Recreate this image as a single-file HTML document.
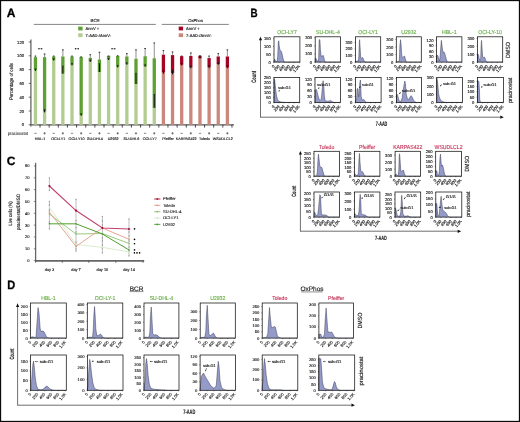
<!DOCTYPE html>
<html><head><meta charset="utf-8"><style>
html,body{margin:0;padding:0;background:#fff;width:520px;height:422px;overflow:hidden}
svg{display:block;font-family:"Liberation Sans", sans-serif;-webkit-font-smoothing:antialiased;will-change:transform;text-rendering:geometricPrecision;filter:blur(0.25px)}
</style></head><body>
<svg width="520" height="422" viewBox="0 0 520 422">
<rect width="520" height="422" fill="#fff"/>
<text x="6.80" y="16.90" font-size="12" text-anchor="start" fill="#000" font-weight="bold" stroke="#000" stroke-width="0.3" >A</text>
<line x1="30.9" y1="39.5" x2="30.9" y2="125.3" stroke="#666" stroke-width="1.3"/>
<line x1="30.4" y1="124.8" x2="234" y2="124.8" stroke="#555" stroke-width="1.2"/>
<line x1="28.7" y1="124.80" x2="30.9" y2="124.80" stroke="#333" stroke-width="0.7"/>
<text x="24.10" y="126.30" font-size="4.2" text-anchor="end" fill="#222" font-weight="normal" stroke="#222" stroke-width="0.15" >0</text>
<line x1="28.7" y1="111.00" x2="30.9" y2="111.00" stroke="#333" stroke-width="0.7"/>
<text x="24.10" y="112.50" font-size="4.2" text-anchor="end" fill="#222" font-weight="normal" stroke="#222" stroke-width="0.15" >20</text>
<line x1="28.7" y1="97.20" x2="30.9" y2="97.20" stroke="#333" stroke-width="0.7"/>
<text x="24.10" y="98.70" font-size="4.2" text-anchor="end" fill="#222" font-weight="normal" stroke="#222" stroke-width="0.15" >40</text>
<line x1="28.7" y1="83.40" x2="30.9" y2="83.40" stroke="#333" stroke-width="0.7"/>
<text x="24.10" y="84.90" font-size="4.2" text-anchor="end" fill="#222" font-weight="normal" stroke="#222" stroke-width="0.15" >60</text>
<line x1="28.7" y1="69.60" x2="30.9" y2="69.60" stroke="#333" stroke-width="0.7"/>
<text x="24.10" y="71.10" font-size="4.2" text-anchor="end" fill="#222" font-weight="normal" stroke="#222" stroke-width="0.15" >80</text>
<line x1="28.7" y1="55.80" x2="30.9" y2="55.80" stroke="#333" stroke-width="0.7"/>
<text x="24.10" y="57.30" font-size="4.2" text-anchor="end" fill="#222" font-weight="normal" stroke="#222" stroke-width="0.15" >100</text>
<line x1="28.7" y1="42.00" x2="30.9" y2="42.00" stroke="#333" stroke-width="0.7"/>
<text x="24.10" y="43.50" font-size="4.2" text-anchor="end" fill="#222" font-weight="normal" stroke="#222" stroke-width="0.15" >120</text>
<text transform="translate(12.6,81.5) rotate(-90)" font-size="5.2" text-anchor="middle" fill="#222" stroke="#222" stroke-width="0.15" textLength="37" lengthAdjust="spacingAndGlyphs">Percentage of cells</text>
<rect x="33.80" y="70.29" width="3.3" height="54.51" fill="#b3cc92"/>
<rect x="33.80" y="57.18" width="3.3" height="13.11" fill="#5fa033"/>
<line x1="35.45" y1="55.80" x2="35.45" y2="57.18" stroke="#444" stroke-width="0.6"/>
<line x1="34.65" y1="56.10" x2="36.25" y2="56.10" stroke="#222" stroke-width="0.9"/>
<line x1="35.45" y1="68.91" x2="35.45" y2="70.98" stroke="#111" stroke-width="1.0"/>
<line x1="34.65" y1="68.91" x2="36.25" y2="68.91" stroke="#111" stroke-width="0.6"/>
<line x1="40.02" y1="124.8" x2="40.02" y2="127.6" stroke="#222" stroke-width="0.8"/>
<line x1="34.30" y1="133.3" x2="36.60" y2="133.3" stroke="#333" stroke-width="0.6"/>
<rect x="42.94" y="111.69" width="3.3" height="13.11" fill="#b3cc92"/>
<rect x="42.94" y="57.18" width="3.3" height="54.51" fill="#5fa033"/>
<line x1="44.59" y1="53.73" x2="44.59" y2="57.18" stroke="#444" stroke-width="0.6"/>
<line x1="43.79" y1="54.03" x2="45.39" y2="54.03" stroke="#222" stroke-width="0.9"/>
<line x1="44.59" y1="109.62" x2="44.59" y2="112.38" stroke="#111" stroke-width="1.0"/>
<line x1="43.79" y1="109.62" x2="45.39" y2="109.62" stroke="#111" stroke-width="0.6"/>
<line x1="49.16" y1="124.8" x2="49.16" y2="127.6" stroke="#222" stroke-width="0.8"/>
<line x1="43.44" y1="133.3" x2="45.74" y2="133.3" stroke="#333" stroke-width="0.6"/>
<line x1="44.59" y1="132.1" x2="44.59" y2="134.5" stroke="#333" stroke-width="0.6"/>
<rect x="52.08" y="59.94" width="3.3" height="64.86" fill="#b3cc92"/>
<rect x="52.08" y="56.49" width="3.3" height="3.45" fill="#5fa033"/>
<line x1="53.73" y1="55.80" x2="53.73" y2="56.49" stroke="#444" stroke-width="0.6"/>
<line x1="52.93" y1="56.10" x2="54.53" y2="56.10" stroke="#222" stroke-width="0.9"/>
<line x1="53.73" y1="58.56" x2="53.73" y2="60.63" stroke="#111" stroke-width="1.0"/>
<line x1="52.93" y1="58.56" x2="54.53" y2="58.56" stroke="#111" stroke-width="0.6"/>
<line x1="58.30" y1="124.8" x2="58.30" y2="127.6" stroke="#222" stroke-width="0.8"/>
<line x1="52.58" y1="133.3" x2="54.88" y2="133.3" stroke="#333" stroke-width="0.6"/>
<rect x="61.22" y="73.74" width="3.3" height="51.06" fill="#b3cc92"/>
<rect x="61.22" y="56.49" width="3.3" height="17.25" fill="#5fa033"/>
<line x1="62.87" y1="49.59" x2="62.87" y2="56.49" stroke="#444" stroke-width="0.6"/>
<line x1="62.07" y1="49.89" x2="63.67" y2="49.89" stroke="#222" stroke-width="0.9"/>
<line x1="62.87" y1="66.15" x2="62.87" y2="73.74" stroke="#111" stroke-width="1.0"/>
<line x1="62.07" y1="66.15" x2="63.67" y2="66.15" stroke="#111" stroke-width="0.6"/>
<line x1="67.44" y1="124.8" x2="67.44" y2="127.6" stroke="#222" stroke-width="0.8"/>
<line x1="61.72" y1="133.3" x2="64.02" y2="133.3" stroke="#333" stroke-width="0.6"/>
<line x1="62.87" y1="132.1" x2="62.87" y2="134.5" stroke="#333" stroke-width="0.6"/>
<rect x="70.36" y="64.77" width="3.3" height="60.03" fill="#b3cc92"/>
<rect x="70.36" y="56.49" width="3.3" height="8.28" fill="#5fa033"/>
<line x1="72.01" y1="55.80" x2="72.01" y2="56.49" stroke="#444" stroke-width="0.6"/>
<line x1="71.21" y1="56.10" x2="72.81" y2="56.10" stroke="#222" stroke-width="0.9"/>
<line x1="72.01" y1="63.39" x2="72.01" y2="65.46" stroke="#111" stroke-width="1.0"/>
<line x1="71.21" y1="63.39" x2="72.81" y2="63.39" stroke="#111" stroke-width="0.6"/>
<line x1="76.58" y1="124.8" x2="76.58" y2="127.6" stroke="#222" stroke-width="0.8"/>
<line x1="70.86" y1="133.3" x2="73.16" y2="133.3" stroke="#333" stroke-width="0.6"/>
<rect x="79.50" y="115.14" width="3.3" height="9.66" fill="#b3cc92"/>
<rect x="79.50" y="56.90" width="3.3" height="58.24" fill="#5fa033"/>
<line x1="81.15" y1="56.63" x2="81.15" y2="56.90" stroke="#444" stroke-width="0.6"/>
<line x1="80.35" y1="56.93" x2="81.95" y2="56.93" stroke="#222" stroke-width="0.9"/>
<line x1="81.15" y1="113.76" x2="81.15" y2="115.83" stroke="#111" stroke-width="1.0"/>
<line x1="80.35" y1="113.76" x2="81.95" y2="113.76" stroke="#111" stroke-width="0.6"/>
<line x1="85.72" y1="124.8" x2="85.72" y2="127.6" stroke="#222" stroke-width="0.8"/>
<line x1="80.00" y1="133.3" x2="82.30" y2="133.3" stroke="#333" stroke-width="0.6"/>
<line x1="81.15" y1="132.1" x2="81.15" y2="134.5" stroke="#333" stroke-width="0.6"/>
<rect x="88.64" y="61.32" width="3.3" height="63.48" fill="#b3cc92"/>
<rect x="88.64" y="57.87" width="3.3" height="3.45" fill="#5fa033"/>
<line x1="90.29" y1="54.42" x2="90.29" y2="57.87" stroke="#444" stroke-width="0.6"/>
<line x1="89.49" y1="54.72" x2="91.09" y2="54.72" stroke="#222" stroke-width="0.9"/>
<line x1="90.29" y1="59.94" x2="90.29" y2="62.01" stroke="#111" stroke-width="1.0"/>
<line x1="89.49" y1="59.94" x2="91.09" y2="59.94" stroke="#111" stroke-width="0.6"/>
<line x1="94.86" y1="124.8" x2="94.86" y2="127.6" stroke="#222" stroke-width="0.8"/>
<line x1="89.14" y1="133.3" x2="91.44" y2="133.3" stroke="#333" stroke-width="0.6"/>
<rect x="97.78" y="72.02" width="3.3" height="52.78" fill="#b3cc92"/>
<rect x="97.78" y="59.53" width="3.3" height="12.49" fill="#5fa033"/>
<line x1="99.43" y1="51.94" x2="99.43" y2="59.53" stroke="#444" stroke-width="0.6"/>
<line x1="98.63" y1="52.24" x2="100.23" y2="52.24" stroke="#222" stroke-width="0.9"/>
<line x1="99.43" y1="63.73" x2="99.43" y2="72.02" stroke="#111" stroke-width="1.0"/>
<line x1="98.63" y1="63.73" x2="100.23" y2="63.73" stroke="#111" stroke-width="0.6"/>
<line x1="104.00" y1="124.8" x2="104.00" y2="127.6" stroke="#222" stroke-width="0.8"/>
<line x1="98.28" y1="133.3" x2="100.58" y2="133.3" stroke="#333" stroke-width="0.6"/>
<line x1="99.43" y1="132.1" x2="99.43" y2="134.5" stroke="#333" stroke-width="0.6"/>
<rect x="106.92" y="59.53" width="3.3" height="65.27" fill="#b3cc92"/>
<rect x="106.92" y="55.80" width="3.3" height="3.73" fill="#5fa033"/>
<line x1="108.57" y1="55.80" x2="108.57" y2="55.80" stroke="#444" stroke-width="0.6"/>
<line x1="107.77" y1="56.10" x2="109.37" y2="56.10" stroke="#222" stroke-width="0.9"/>
<line x1="108.57" y1="58.56" x2="108.57" y2="59.94" stroke="#111" stroke-width="1.0"/>
<line x1="107.77" y1="58.56" x2="109.37" y2="58.56" stroke="#111" stroke-width="0.6"/>
<line x1="113.14" y1="124.8" x2="113.14" y2="127.6" stroke="#222" stroke-width="0.8"/>
<line x1="107.42" y1="133.3" x2="109.72" y2="133.3" stroke="#333" stroke-width="0.6"/>
<rect x="116.06" y="66.84" width="3.3" height="57.96" fill="#b3cc92"/>
<rect x="116.06" y="55.94" width="3.3" height="10.90" fill="#5fa033"/>
<line x1="117.71" y1="55.52" x2="117.71" y2="55.94" stroke="#444" stroke-width="0.6"/>
<line x1="116.91" y1="55.82" x2="118.51" y2="55.82" stroke="#222" stroke-width="0.9"/>
<line x1="117.71" y1="65.46" x2="117.71" y2="67.53" stroke="#111" stroke-width="1.0"/>
<line x1="116.91" y1="65.46" x2="118.51" y2="65.46" stroke="#111" stroke-width="0.6"/>
<line x1="122.28" y1="124.8" x2="122.28" y2="127.6" stroke="#222" stroke-width="0.8"/>
<line x1="116.56" y1="133.3" x2="118.86" y2="133.3" stroke="#333" stroke-width="0.6"/>
<line x1="117.71" y1="132.1" x2="117.71" y2="134.5" stroke="#333" stroke-width="0.6"/>
<rect x="125.20" y="64.08" width="3.3" height="60.72" fill="#b3cc92"/>
<rect x="125.20" y="56.49" width="3.3" height="7.59" fill="#5fa033"/>
<line x1="126.85" y1="53.32" x2="126.85" y2="56.49" stroke="#444" stroke-width="0.6"/>
<line x1="126.05" y1="53.62" x2="127.65" y2="53.62" stroke="#222" stroke-width="0.9"/>
<line x1="126.85" y1="62.70" x2="126.85" y2="64.77" stroke="#111" stroke-width="1.0"/>
<line x1="126.05" y1="62.70" x2="127.65" y2="62.70" stroke="#111" stroke-width="0.6"/>
<line x1="131.42" y1="124.8" x2="131.42" y2="127.6" stroke="#222" stroke-width="0.8"/>
<line x1="125.70" y1="133.3" x2="128.00" y2="133.3" stroke="#333" stroke-width="0.6"/>
<rect x="134.34" y="84.09" width="3.3" height="40.71" fill="#b3cc92"/>
<rect x="134.34" y="58.77" width="3.3" height="25.32" fill="#5fa033"/>
<line x1="135.99" y1="49.59" x2="135.99" y2="58.77" stroke="#444" stroke-width="0.6"/>
<line x1="135.19" y1="49.89" x2="136.79" y2="49.89" stroke="#222" stroke-width="0.9"/>
<line x1="135.99" y1="73.33" x2="135.99" y2="84.09" stroke="#111" stroke-width="1.0"/>
<line x1="135.19" y1="73.33" x2="136.79" y2="73.33" stroke="#111" stroke-width="0.6"/>
<line x1="140.56" y1="124.8" x2="140.56" y2="127.6" stroke="#222" stroke-width="0.8"/>
<line x1="134.84" y1="133.3" x2="137.14" y2="133.3" stroke="#333" stroke-width="0.6"/>
<line x1="135.99" y1="132.1" x2="135.99" y2="134.5" stroke="#333" stroke-width="0.6"/>
<rect x="143.48" y="66.15" width="3.3" height="58.65" fill="#b3cc92"/>
<rect x="143.48" y="56.21" width="3.3" height="9.94" fill="#5fa033"/>
<line x1="145.13" y1="48.21" x2="145.13" y2="56.21" stroke="#444" stroke-width="0.6"/>
<line x1="144.33" y1="48.51" x2="145.93" y2="48.51" stroke="#222" stroke-width="0.9"/>
<line x1="145.13" y1="64.77" x2="145.13" y2="66.84" stroke="#111" stroke-width="1.0"/>
<line x1="144.33" y1="64.77" x2="145.93" y2="64.77" stroke="#111" stroke-width="0.6"/>
<line x1="149.70" y1="124.8" x2="149.70" y2="127.6" stroke="#222" stroke-width="0.8"/>
<line x1="143.98" y1="133.3" x2="146.28" y2="133.3" stroke="#333" stroke-width="0.6"/>
<rect x="152.62" y="108.24" width="3.3" height="16.56" fill="#b3cc92"/>
<rect x="152.62" y="58.28" width="3.3" height="49.96" fill="#5fa033"/>
<line x1="154.27" y1="42.69" x2="154.27" y2="58.28" stroke="#444" stroke-width="0.6"/>
<line x1="153.47" y1="42.99" x2="155.07" y2="42.99" stroke="#222" stroke-width="0.9"/>
<line x1="154.27" y1="94.44" x2="154.27" y2="107.55" stroke="#111" stroke-width="1.0"/>
<line x1="153.47" y1="94.44" x2="155.07" y2="94.44" stroke="#111" stroke-width="0.6"/>
<line x1="158.84" y1="124.8" x2="158.84" y2="127.6" stroke="#222" stroke-width="0.8"/>
<line x1="153.12" y1="133.3" x2="155.42" y2="133.3" stroke="#333" stroke-width="0.6"/>
<line x1="154.27" y1="132.1" x2="154.27" y2="134.5" stroke="#333" stroke-width="0.6"/>
<rect x="161.76" y="72.50" width="3.3" height="52.30" fill="#cc877c"/>
<rect x="161.76" y="54.70" width="3.3" height="17.80" fill="#a60426"/>
<line x1="163.41" y1="50.28" x2="163.41" y2="54.70" stroke="#444" stroke-width="0.6"/>
<line x1="162.61" y1="50.58" x2="164.21" y2="50.58" stroke="#222" stroke-width="0.9"/>
<line x1="163.41" y1="70.29" x2="163.41" y2="73.74" stroke="#111" stroke-width="1.0"/>
<line x1="162.61" y1="70.29" x2="164.21" y2="70.29" stroke="#111" stroke-width="0.6"/>
<line x1="167.98" y1="124.8" x2="167.98" y2="127.6" stroke="#222" stroke-width="0.8"/>
<line x1="162.26" y1="133.3" x2="164.56" y2="133.3" stroke="#333" stroke-width="0.6"/>
<rect x="170.90" y="73.19" width="3.3" height="51.61" fill="#cc877c"/>
<rect x="170.90" y="55.11" width="3.3" height="18.08" fill="#a60426"/>
<line x1="172.55" y1="51.66" x2="172.55" y2="55.11" stroke="#444" stroke-width="0.6"/>
<line x1="171.75" y1="51.96" x2="173.35" y2="51.96" stroke="#222" stroke-width="0.9"/>
<line x1="172.55" y1="70.29" x2="172.55" y2="74.43" stroke="#111" stroke-width="1.0"/>
<line x1="171.75" y1="70.29" x2="173.35" y2="70.29" stroke="#111" stroke-width="0.6"/>
<line x1="177.12" y1="124.8" x2="177.12" y2="127.6" stroke="#222" stroke-width="0.8"/>
<line x1="171.40" y1="133.3" x2="173.70" y2="133.3" stroke="#333" stroke-width="0.6"/>
<line x1="172.55" y1="132.1" x2="172.55" y2="134.5" stroke="#333" stroke-width="0.6"/>
<rect x="180.04" y="64.77" width="3.3" height="60.03" fill="#cc877c"/>
<rect x="180.04" y="56.21" width="3.3" height="8.56" fill="#a60426"/>
<line x1="181.69" y1="55.80" x2="181.69" y2="56.21" stroke="#444" stroke-width="0.6"/>
<line x1="180.89" y1="56.10" x2="182.49" y2="56.10" stroke="#222" stroke-width="0.9"/>
<line x1="181.69" y1="63.39" x2="181.69" y2="65.46" stroke="#111" stroke-width="1.0"/>
<line x1="180.89" y1="63.39" x2="182.49" y2="63.39" stroke="#111" stroke-width="0.6"/>
<line x1="186.26" y1="124.8" x2="186.26" y2="127.6" stroke="#222" stroke-width="0.8"/>
<line x1="180.54" y1="133.3" x2="182.84" y2="133.3" stroke="#333" stroke-width="0.6"/>
<rect x="189.18" y="67.53" width="3.3" height="57.27" fill="#cc877c"/>
<rect x="189.18" y="55.94" width="3.3" height="11.59" fill="#a60426"/>
<line x1="190.83" y1="52.63" x2="190.83" y2="55.94" stroke="#444" stroke-width="0.6"/>
<line x1="190.03" y1="52.93" x2="191.63" y2="52.93" stroke="#222" stroke-width="0.9"/>
<line x1="190.83" y1="66.15" x2="190.83" y2="68.22" stroke="#111" stroke-width="1.0"/>
<line x1="190.03" y1="66.15" x2="191.63" y2="66.15" stroke="#111" stroke-width="0.6"/>
<line x1="195.40" y1="124.8" x2="195.40" y2="127.6" stroke="#222" stroke-width="0.8"/>
<line x1="189.68" y1="133.3" x2="191.98" y2="133.3" stroke="#333" stroke-width="0.6"/>
<line x1="190.83" y1="132.1" x2="190.83" y2="134.5" stroke="#333" stroke-width="0.6"/>
<rect x="198.32" y="58.28" width="3.3" height="66.52" fill="#cc877c"/>
<rect x="198.32" y="55.80" width="3.3" height="2.48" fill="#a60426"/>
<line x1="199.97" y1="55.45" x2="199.97" y2="55.80" stroke="#444" stroke-width="0.6"/>
<line x1="199.17" y1="55.75" x2="200.77" y2="55.75" stroke="#222" stroke-width="0.9"/>
<line x1="199.97" y1="57.18" x2="199.97" y2="58.56" stroke="#111" stroke-width="1.0"/>
<line x1="199.17" y1="57.18" x2="200.77" y2="57.18" stroke="#111" stroke-width="0.6"/>
<line x1="204.54" y1="124.8" x2="204.54" y2="127.6" stroke="#222" stroke-width="0.8"/>
<line x1="198.82" y1="133.3" x2="201.12" y2="133.3" stroke="#333" stroke-width="0.6"/>
<rect x="207.46" y="67.12" width="3.3" height="57.68" fill="#cc877c"/>
<rect x="207.46" y="58.08" width="3.3" height="9.04" fill="#a60426"/>
<line x1="209.11" y1="55.80" x2="209.11" y2="58.08" stroke="#444" stroke-width="0.6"/>
<line x1="208.31" y1="56.10" x2="209.91" y2="56.10" stroke="#222" stroke-width="0.9"/>
<line x1="209.11" y1="65.46" x2="209.11" y2="68.22" stroke="#111" stroke-width="1.0"/>
<line x1="208.31" y1="65.46" x2="209.91" y2="65.46" stroke="#111" stroke-width="0.6"/>
<line x1="213.68" y1="124.8" x2="213.68" y2="127.6" stroke="#222" stroke-width="0.8"/>
<line x1="207.96" y1="133.3" x2="210.26" y2="133.3" stroke="#333" stroke-width="0.6"/>
<line x1="209.11" y1="132.1" x2="209.11" y2="134.5" stroke="#333" stroke-width="0.6"/>
<rect x="216.60" y="64.08" width="3.3" height="60.72" fill="#cc877c"/>
<rect x="216.60" y="56.49" width="3.3" height="7.59" fill="#a60426"/>
<line x1="218.25" y1="53.32" x2="218.25" y2="56.49" stroke="#444" stroke-width="0.6"/>
<line x1="217.45" y1="53.62" x2="219.05" y2="53.62" stroke="#222" stroke-width="0.9"/>
<line x1="218.25" y1="62.70" x2="218.25" y2="64.77" stroke="#111" stroke-width="1.0"/>
<line x1="217.45" y1="62.70" x2="219.05" y2="62.70" stroke="#111" stroke-width="0.6"/>
<line x1="222.82" y1="124.8" x2="222.82" y2="127.6" stroke="#222" stroke-width="0.8"/>
<line x1="217.10" y1="133.3" x2="219.40" y2="133.3" stroke="#333" stroke-width="0.6"/>
<rect x="225.74" y="67.53" width="3.3" height="57.27" fill="#cc877c"/>
<rect x="225.74" y="56.49" width="3.3" height="11.04" fill="#a60426"/>
<line x1="227.39" y1="49.59" x2="227.39" y2="56.49" stroke="#444" stroke-width="0.6"/>
<line x1="226.59" y1="49.89" x2="228.19" y2="49.89" stroke="#222" stroke-width="0.9"/>
<line x1="227.39" y1="65.46" x2="227.39" y2="68.22" stroke="#111" stroke-width="1.0"/>
<line x1="226.59" y1="65.46" x2="228.19" y2="65.46" stroke="#111" stroke-width="0.6"/>
<line x1="231.96" y1="124.8" x2="231.96" y2="127.6" stroke="#222" stroke-width="0.8"/>
<line x1="226.24" y1="133.3" x2="228.54" y2="133.3" stroke="#333" stroke-width="0.6"/>
<line x1="227.39" y1="132.1" x2="227.39" y2="134.5" stroke="#333" stroke-width="0.6"/>
<line x1="30.9" y1="124.8" x2="30.9" y2="127.0" stroke="#333" stroke-width="0.5"/>
<text x="7.80" y="134.80" font-size="4.6" text-anchor="start" fill="#222" font-weight="normal" stroke="#222" stroke-width="0.06" textLength="20.2" lengthAdjust="spacingAndGlyphs">pracinostat</text>
<text x="40.02" y="140.30" font-size="3.7" text-anchor="middle" fill="#222" font-weight="normal" stroke="#222" stroke-width="0.15" >HBL-1</text>
<text x="58.30" y="140.30" font-size="3.7" text-anchor="middle" fill="#222" font-weight="normal" stroke="#222" stroke-width="0.15" >OCI-LY1</text>
<text x="76.58" y="140.30" font-size="3.7" text-anchor="middle" fill="#222" font-weight="normal" stroke="#222" stroke-width="0.15" >OCI-LY10</text>
<text x="94.86" y="140.30" font-size="3.7" text-anchor="middle" fill="#222" font-weight="normal" stroke="#222" stroke-width="0.15" >SU-DHL4</text>
<text x="113.14" y="140.30" font-size="3.7" text-anchor="middle" fill="#222" font-weight="normal" stroke="#222" stroke-width="0.15" >U2932</text>
<text x="131.42" y="140.30" font-size="3.7" text-anchor="middle" fill="#222" font-weight="normal" stroke="#222" stroke-width="0.15" >SU-DHL6</text>
<text x="149.70" y="140.30" font-size="3.7" text-anchor="middle" fill="#222" font-weight="normal" stroke="#222" stroke-width="0.15" >OCI-LY7</text>
<text x="167.98" y="140.30" font-size="3.7" text-anchor="middle" fill="#222" font-weight="normal" stroke="#222" stroke-width="0.15" >Pfeiffer</text>
<text x="186.26" y="140.30" font-size="3.7" text-anchor="middle" fill="#222" font-weight="normal" stroke="#222" stroke-width="0.15" >KARPAS422</text>
<text x="204.54" y="140.30" font-size="3.7" text-anchor="middle" fill="#222" font-weight="normal" stroke="#222" stroke-width="0.15" >Toledo</text>
<text x="222.82" y="140.30" font-size="3.7" text-anchor="middle" fill="#222" font-weight="normal" stroke="#222" stroke-width="0.15" >WSUDLCL2</text>
<line x1="38.90" y1="48.7" x2="41.70" y2="48.7" stroke="#555" stroke-width="0.5"/>
<circle cx="38.90" cy="48.7" r="0.75" fill="#222"/>
<circle cx="41.70" cy="48.7" r="0.75" fill="#222"/>
<line x1="75.50" y1="48.7" x2="78.30" y2="48.7" stroke="#555" stroke-width="0.5"/>
<circle cx="75.50" cy="48.7" r="0.75" fill="#222"/>
<circle cx="78.30" cy="48.7" r="0.75" fill="#222"/>
<line x1="112.00" y1="48.7" x2="114.80" y2="48.7" stroke="#555" stroke-width="0.5"/>
<circle cx="112.00" cy="48.7" r="0.75" fill="#222"/>
<circle cx="114.80" cy="48.7" r="0.75" fill="#222"/>
<text x="95.10" y="21.70" font-size="4.4" text-anchor="middle" fill="#222" font-weight="normal" stroke="#222" stroke-width="0.15" >BCR</text>
<line x1="33.8" y1="24.4" x2="155.8" y2="24.4" stroke="#333" stroke-width="0.6"/>
<text x="195.60" y="21.70" font-size="4.2" text-anchor="middle" fill="#222" font-weight="normal" stroke="#222" stroke-width="0.15" >OxPhos</text>
<line x1="161.7" y1="24.4" x2="228.8" y2="24.4" stroke="#333" stroke-width="0.6"/>
<rect x="78.2" y="26.6" width="4.4" height="3.8" fill="#5fa033"/>
<rect x="78.2" y="33.3" width="4.4" height="3.8" fill="#b3cc92"/>
<text x="85.60" y="30.00" font-size="4.1" text-anchor="start" fill="#222" font-weight="normal" stroke="#222" stroke-width="0.15" textLength="13.6" lengthAdjust="spacingAndGlyphs">AnnV +</text>
<text x="85.60" y="36.70" font-size="4.1" text-anchor="start" fill="#222" font-weight="normal" stroke="#222" stroke-width="0.15" textLength="25.4" lengthAdjust="spacingAndGlyphs">7-AAD-/AnnV-</text>
<rect x="178.7" y="26.6" width="4.4" height="3.8" fill="#a60426"/>
<rect x="178.7" y="33.3" width="4.4" height="3.8" fill="#cc877c"/>
<text x="186.10" y="30.00" font-size="4.1" text-anchor="start" fill="#222" font-weight="normal" stroke="#222" stroke-width="0.15" textLength="13.6" lengthAdjust="spacingAndGlyphs">AnnV +</text>
<text x="186.10" y="36.70" font-size="4.1" text-anchor="start" fill="#222" font-weight="normal" stroke="#222" stroke-width="0.15" textLength="25.4" lengthAdjust="spacingAndGlyphs">7-AAD-/AnnV-</text>
<text x="250.60" y="16.80" font-size="12" text-anchor="start" fill="#000" font-weight="bold" stroke="#000" stroke-width="0.3" textLength="7.1" lengthAdjust="spacingAndGlyphs">B</text>
<text x="286.95" y="33.50" font-size="5.8" text-anchor="middle" fill="#6aaf4a" font-weight="normal" stroke="#6aaf4a" stroke-width="0.15"  textLength="19.65" lengthAdjust="spacingAndGlyphs">OCI-LY7</text>
<text x="327.90" y="33.50" font-size="5.8" text-anchor="middle" fill="#6aaf4a" font-weight="normal" stroke="#6aaf4a" stroke-width="0.15"  textLength="23.75" lengthAdjust="spacingAndGlyphs">SU-DHL-4</text>
<text x="368.10" y="33.50" font-size="5.8" text-anchor="middle" fill="#6aaf4a" font-weight="normal" stroke="#6aaf4a" stroke-width="0.15"  textLength="19.65" lengthAdjust="spacingAndGlyphs">OCI-LY1</text>
<text x="408.80" y="33.50" font-size="5.8" text-anchor="middle" fill="#6aaf4a" font-weight="normal" stroke="#6aaf4a" stroke-width="0.15"  textLength="15.18" lengthAdjust="spacingAndGlyphs">U2932</text>
<text x="449.25" y="33.50" font-size="5.8" text-anchor="middle" fill="#6aaf4a" font-weight="normal" stroke="#6aaf4a" stroke-width="0.15"  textLength="14.60" lengthAdjust="spacingAndGlyphs">HBL-1</text>
<text x="490.10" y="33.50" font-size="5.8" text-anchor="middle" fill="#6aaf4a" font-weight="normal" stroke="#6aaf4a" stroke-width="0.15"  textLength="23.76" lengthAdjust="spacingAndGlyphs">OCI-LY-10</text>
<path d="M274.00,62.10 L274.28,59.87 L274.70,59.19 L275.42,60.58 L275.92,61.59 L277.13,61.59 L277.70,56.41 L278.27,42.49 L278.77,40.77 L279.26,45.98 L279.98,50.13 L280.89,50.84 L281.61,51.88 L282.31,55.02 L283.25,59.19 L284.10,61.59 L284.83,61.97 L285.65,62.10 L299.90,62.10 Z" fill="#959bc8" stroke="none"/>
<path d="M274.00,62.10 L274.28,59.87 L274.70,59.19 L275.42,60.58 L275.92,61.59 L277.13,61.59 L277.70,56.41 L278.27,42.49 L278.77,40.77 L279.26,45.98 L279.98,50.13 L280.89,50.84 L281.61,51.88 L282.31,55.02 L283.25,59.19 L284.10,61.59 L284.83,61.97 L285.65,62.10 L299.90,62.10" fill="none" stroke="#2b2d45" stroke-width="0.45" stroke-linejoin="round"/>
<rect x="274.00" y="36.80" width="25.90" height="25.30" fill="none" stroke="#111" stroke-width="0.75"/>
<line x1="273.00" y1="62.10" x2="274.00" y2="62.10" stroke="#111" stroke-width="0.4"/>
<text x="270.90" y="63.59" font-size="4.15" text-anchor="end" fill="#222" stroke="#222" stroke-width="0.15" textLength="2.30" lengthAdjust="spacingAndGlyphs">0</text>
<line x1="273.00" y1="54.29" x2="274.00" y2="54.29" stroke="#111" stroke-width="0.4"/>
<text x="270.90" y="55.79" font-size="4.15" text-anchor="end" fill="#222" stroke="#222" stroke-width="0.15" textLength="4.60" lengthAdjust="spacingAndGlyphs">50</text>
<line x1="273.00" y1="46.48" x2="274.00" y2="46.48" stroke="#111" stroke-width="0.4"/>
<text x="270.90" y="47.98" font-size="4.15" text-anchor="end" fill="#222" stroke="#222" stroke-width="0.15" textLength="6.90" lengthAdjust="spacingAndGlyphs">100</text>
<line x1="273.00" y1="38.67" x2="274.00" y2="38.67" stroke="#111" stroke-width="0.4"/>
<text x="270.90" y="40.17" font-size="4.15" text-anchor="end" fill="#222" stroke="#222" stroke-width="0.15" textLength="6.90" lengthAdjust="spacingAndGlyphs">150</text>
<line x1="274.00" y1="62.10" x2="274.00" y2="63.10" stroke="#111" stroke-width="0.4"/>
<text transform="translate(274.90,66.50) rotate(-49)" font-size="3.95" text-anchor="end" fill="#222" stroke="#222" stroke-width="0.16">0</text>
<line x1="279.06" y1="62.10" x2="279.06" y2="63.10" stroke="#111" stroke-width="0.4"/>
<text transform="translate(279.96,66.50) rotate(-49)" font-size="3.95" text-anchor="end" fill="#222" stroke="#222" stroke-width="0.16">200</text>
<line x1="284.12" y1="62.10" x2="284.12" y2="63.10" stroke="#111" stroke-width="0.4"/>
<text transform="translate(285.02,66.50) rotate(-49)" font-size="3.95" text-anchor="end" fill="#222" stroke="#222" stroke-width="0.16">400</text>
<line x1="289.18" y1="62.10" x2="289.18" y2="63.10" stroke="#111" stroke-width="0.4"/>
<text transform="translate(290.08,66.50) rotate(-49)" font-size="3.95" text-anchor="end" fill="#222" stroke="#222" stroke-width="0.16">600</text>
<line x1="294.23" y1="62.10" x2="294.23" y2="63.10" stroke="#111" stroke-width="0.4"/>
<text transform="translate(295.13,66.50) rotate(-49)" font-size="3.95" text-anchor="end" fill="#222" stroke="#222" stroke-width="0.16">800</text>
<line x1="299.29" y1="62.10" x2="299.29" y2="63.10" stroke="#111" stroke-width="0.4"/>
<text transform="translate(300.19,66.50) rotate(-49)" font-size="3.95" text-anchor="end" fill="#222" stroke="#222" stroke-width="0.16">1.0K</text>
<path d="M274.00,102.40 L274.00,78.99 L274.15,78.99 L274.72,79.99 L275.21,84.72 L275.93,91.20 L276.62,96.27 L277.55,99.51 L278.75,101.33 L281.25,102.05 L285.56,102.40 L299.70,102.40 Z" fill="#959bc8" stroke="none"/>
<path d="M274.00,102.40 L274.00,78.99 L274.15,78.99 L274.72,79.99 L275.21,84.72 L275.93,91.20 L276.62,96.27 L277.55,99.51 L278.75,101.33 L281.25,102.05 L285.56,102.40 L299.70,102.40" fill="none" stroke="#2b2d45" stroke-width="0.45" stroke-linejoin="round"/>
<rect x="274.00" y="77.50" width="25.70" height="24.90" fill="none" stroke="#111" stroke-width="0.75"/>
<line x1="273.00" y1="102.40" x2="274.00" y2="102.40" stroke="#111" stroke-width="0.4"/>
<text x="270.90" y="103.89" font-size="4.15" text-anchor="end" fill="#222" stroke="#222" stroke-width="0.15" textLength="2.30" lengthAdjust="spacingAndGlyphs">0</text>
<line x1="273.00" y1="97.46" x2="274.00" y2="97.46" stroke="#111" stroke-width="0.4"/>
<text x="270.90" y="98.95" font-size="4.15" text-anchor="end" fill="#222" stroke="#222" stroke-width="0.15" textLength="4.60" lengthAdjust="spacingAndGlyphs">50</text>
<line x1="273.00" y1="92.52" x2="274.00" y2="92.52" stroke="#111" stroke-width="0.4"/>
<text x="270.90" y="94.01" font-size="4.15" text-anchor="end" fill="#222" stroke="#222" stroke-width="0.15" textLength="6.90" lengthAdjust="spacingAndGlyphs">100</text>
<line x1="273.00" y1="87.58" x2="274.00" y2="87.58" stroke="#111" stroke-width="0.4"/>
<text x="270.90" y="89.07" font-size="4.15" text-anchor="end" fill="#222" stroke="#222" stroke-width="0.15" textLength="6.90" lengthAdjust="spacingAndGlyphs">150</text>
<line x1="273.00" y1="82.64" x2="274.00" y2="82.64" stroke="#111" stroke-width="0.4"/>
<text x="270.90" y="84.13" font-size="4.15" text-anchor="end" fill="#222" stroke="#222" stroke-width="0.15" textLength="6.90" lengthAdjust="spacingAndGlyphs">200</text>
<line x1="273.00" y1="77.70" x2="274.00" y2="77.70" stroke="#111" stroke-width="0.4"/>
<text x="270.90" y="79.19" font-size="4.15" text-anchor="end" fill="#222" stroke="#222" stroke-width="0.15" textLength="6.90" lengthAdjust="spacingAndGlyphs">250</text>
<line x1="274.00" y1="102.40" x2="274.00" y2="103.40" stroke="#111" stroke-width="0.4"/>
<text transform="translate(274.90,106.80) rotate(-49)" font-size="3.95" text-anchor="end" fill="#222" stroke="#222" stroke-width="0.16">0</text>
<line x1="279.02" y1="102.40" x2="279.02" y2="103.40" stroke="#111" stroke-width="0.4"/>
<text transform="translate(279.92,106.80) rotate(-49)" font-size="3.95" text-anchor="end" fill="#222" stroke="#222" stroke-width="0.16">200</text>
<line x1="284.04" y1="102.40" x2="284.04" y2="103.40" stroke="#111" stroke-width="0.4"/>
<text transform="translate(284.94,106.80) rotate(-49)" font-size="3.95" text-anchor="end" fill="#222" stroke="#222" stroke-width="0.16">400</text>
<line x1="289.06" y1="102.40" x2="289.06" y2="103.40" stroke="#111" stroke-width="0.4"/>
<text transform="translate(289.96,106.80) rotate(-49)" font-size="3.95" text-anchor="end" fill="#222" stroke="#222" stroke-width="0.16">600</text>
<line x1="294.08" y1="102.40" x2="294.08" y2="103.40" stroke="#111" stroke-width="0.4"/>
<text transform="translate(294.98,106.80) rotate(-49)" font-size="3.95" text-anchor="end" fill="#222" stroke="#222" stroke-width="0.16">800</text>
<line x1="299.10" y1="102.40" x2="299.10" y2="103.40" stroke="#111" stroke-width="0.4"/>
<text transform="translate(300.00,106.80) rotate(-49)" font-size="3.95" text-anchor="end" fill="#222" stroke="#222" stroke-width="0.16">1.0K</text>
<path d="M315.20,62.10 L315.20,58.13 L315.48,58.13 L316.14,58.48 L316.85,60.91 L317.92,61.42 L318.63,58.48 L319.19,39.71 L319.90,39.71 L320.41,49.45 L321.12,56.41 L322.19,56.03 L323.25,55.37 L323.76,57.04 L324.47,60.58 L325.36,61.85 L326.12,62.10 L340.60,62.10 Z" fill="#959bc8" stroke="none"/>
<path d="M315.20,62.10 L315.20,58.13 L315.48,58.13 L316.14,58.48 L316.85,60.91 L317.92,61.42 L318.63,58.48 L319.19,39.71 L319.90,39.71 L320.41,49.45 L321.12,56.41 L322.19,56.03 L323.25,55.37 L323.76,57.04 L324.47,60.58 L325.36,61.85 L326.12,62.10 L340.60,62.10" fill="none" stroke="#2b2d45" stroke-width="0.45" stroke-linejoin="round"/>
<rect x="315.20" y="36.80" width="25.40" height="25.30" fill="none" stroke="#111" stroke-width="0.75"/>
<line x1="314.20" y1="62.10" x2="315.20" y2="62.10" stroke="#111" stroke-width="0.4"/>
<text x="312.10" y="63.59" font-size="4.15" text-anchor="end" fill="#222" stroke="#222" stroke-width="0.15" textLength="2.30" lengthAdjust="spacingAndGlyphs">0</text>
<line x1="314.20" y1="53.99" x2="315.20" y2="53.99" stroke="#111" stroke-width="0.4"/>
<text x="312.10" y="55.49" font-size="4.15" text-anchor="end" fill="#222" stroke="#222" stroke-width="0.15" textLength="6.90" lengthAdjust="spacingAndGlyphs">100</text>
<line x1="314.20" y1="45.88" x2="315.20" y2="45.88" stroke="#111" stroke-width="0.4"/>
<text x="312.10" y="47.38" font-size="4.15" text-anchor="end" fill="#222" stroke="#222" stroke-width="0.15" textLength="6.90" lengthAdjust="spacingAndGlyphs">200</text>
<line x1="314.20" y1="37.77" x2="315.20" y2="37.77" stroke="#111" stroke-width="0.4"/>
<text x="312.10" y="39.27" font-size="4.15" text-anchor="end" fill="#222" stroke="#222" stroke-width="0.15" textLength="6.90" lengthAdjust="spacingAndGlyphs">300</text>
<line x1="315.20" y1="62.10" x2="315.20" y2="63.10" stroke="#111" stroke-width="0.4"/>
<text transform="translate(316.10,66.50) rotate(-49)" font-size="3.95" text-anchor="end" fill="#222" stroke="#222" stroke-width="0.16">0</text>
<line x1="320.16" y1="62.10" x2="320.16" y2="63.10" stroke="#111" stroke-width="0.4"/>
<text transform="translate(321.06,66.50) rotate(-49)" font-size="3.95" text-anchor="end" fill="#222" stroke="#222" stroke-width="0.16">200</text>
<line x1="325.12" y1="62.10" x2="325.12" y2="63.10" stroke="#111" stroke-width="0.4"/>
<text transform="translate(326.02,66.50) rotate(-49)" font-size="3.95" text-anchor="end" fill="#222" stroke="#222" stroke-width="0.16">400</text>
<line x1="330.08" y1="62.10" x2="330.08" y2="63.10" stroke="#111" stroke-width="0.4"/>
<text transform="translate(330.98,66.50) rotate(-49)" font-size="3.95" text-anchor="end" fill="#222" stroke="#222" stroke-width="0.16">600</text>
<line x1="335.04" y1="62.10" x2="335.04" y2="63.10" stroke="#111" stroke-width="0.4"/>
<text transform="translate(335.94,66.50) rotate(-49)" font-size="3.95" text-anchor="end" fill="#222" stroke="#222" stroke-width="0.16">800</text>
<line x1="340.00" y1="62.10" x2="340.00" y2="63.10" stroke="#111" stroke-width="0.4"/>
<text transform="translate(340.90,66.50) rotate(-49)" font-size="3.95" text-anchor="end" fill="#222" stroke="#222" stroke-width="0.16">1.0K</text>
<path d="M315.00,102.40 L315.00,90.70 L315.28,90.70 L315.99,89.20 L316.93,91.02 L317.84,94.93 L319.06,99.19 L320.13,100.26 L321.20,99.19 L321.91,92.79 L322.62,83.55 L323.10,80.71 L323.69,84.25 L324.40,96.35 L325.11,100.63 L327.24,101.18 L329.38,100.98 L330.44,100.26 L331.51,101.18 L332.93,101.90 L334.30,102.40 L340.40,102.40 Z" fill="#959bc8" stroke="none"/>
<path d="M315.00,102.40 L315.00,90.70 L315.28,90.70 L315.99,89.20 L316.93,91.02 L317.84,94.93 L319.06,99.19 L320.13,100.26 L321.20,99.19 L321.91,92.79 L322.62,83.55 L323.10,80.71 L323.69,84.25 L324.40,96.35 L325.11,100.63 L327.24,101.18 L329.38,100.98 L330.44,100.26 L331.51,101.18 L332.93,101.90 L334.30,102.40 L340.40,102.40" fill="none" stroke="#2b2d45" stroke-width="0.45" stroke-linejoin="round"/>
<rect x="315.00" y="77.50" width="25.40" height="24.90" fill="none" stroke="#111" stroke-width="0.75"/>
<line x1="314.00" y1="102.40" x2="315.00" y2="102.40" stroke="#111" stroke-width="0.4"/>
<text x="311.90" y="103.89" font-size="4.15" text-anchor="end" fill="#222" stroke="#222" stroke-width="0.15" textLength="2.30" lengthAdjust="spacingAndGlyphs">0</text>
<line x1="314.00" y1="96.56" x2="315.00" y2="96.56" stroke="#111" stroke-width="0.4"/>
<text x="311.90" y="98.06" font-size="4.15" text-anchor="end" fill="#222" stroke="#222" stroke-width="0.15" textLength="4.60" lengthAdjust="spacingAndGlyphs">30</text>
<line x1="314.00" y1="90.73" x2="315.00" y2="90.73" stroke="#111" stroke-width="0.4"/>
<text x="311.90" y="92.22" font-size="4.15" text-anchor="end" fill="#222" stroke="#222" stroke-width="0.15" textLength="4.60" lengthAdjust="spacingAndGlyphs">60</text>
<line x1="314.00" y1="84.89" x2="315.00" y2="84.89" stroke="#111" stroke-width="0.4"/>
<text x="311.90" y="86.39" font-size="4.15" text-anchor="end" fill="#222" stroke="#222" stroke-width="0.15" textLength="4.60" lengthAdjust="spacingAndGlyphs">90</text>
<line x1="314.00" y1="79.06" x2="315.00" y2="79.06" stroke="#111" stroke-width="0.4"/>
<text x="311.90" y="80.55" font-size="4.15" text-anchor="end" fill="#222" stroke="#222" stroke-width="0.15" textLength="6.90" lengthAdjust="spacingAndGlyphs">120</text>
<line x1="315.00" y1="102.40" x2="315.00" y2="103.40" stroke="#111" stroke-width="0.4"/>
<text transform="translate(315.90,106.80) rotate(-49)" font-size="3.95" text-anchor="end" fill="#222" stroke="#222" stroke-width="0.16">0</text>
<line x1="319.96" y1="102.40" x2="319.96" y2="103.40" stroke="#111" stroke-width="0.4"/>
<text transform="translate(320.86,106.80) rotate(-49)" font-size="3.95" text-anchor="end" fill="#222" stroke="#222" stroke-width="0.16">200</text>
<line x1="324.92" y1="102.40" x2="324.92" y2="103.40" stroke="#111" stroke-width="0.4"/>
<text transform="translate(325.82,106.80) rotate(-49)" font-size="3.95" text-anchor="end" fill="#222" stroke="#222" stroke-width="0.16">400</text>
<line x1="329.88" y1="102.40" x2="329.88" y2="103.40" stroke="#111" stroke-width="0.4"/>
<text transform="translate(330.78,106.80) rotate(-49)" font-size="3.95" text-anchor="end" fill="#222" stroke="#222" stroke-width="0.16">600</text>
<line x1="334.84" y1="102.40" x2="334.84" y2="103.40" stroke="#111" stroke-width="0.4"/>
<text transform="translate(335.74,106.80) rotate(-49)" font-size="3.95" text-anchor="end" fill="#222" stroke="#222" stroke-width="0.16">800</text>
<line x1="339.80" y1="102.40" x2="339.80" y2="103.40" stroke="#111" stroke-width="0.4"/>
<text transform="translate(340.70,106.80) rotate(-49)" font-size="3.95" text-anchor="end" fill="#222" stroke="#222" stroke-width="0.16">1.0K</text>
<path d="M355.50,62.10 L355.85,61.59 L357.29,61.09 L358.35,61.09 L358.85,56.21 L359.28,43.28 L359.63,39.68 L359.99,45.40 L360.72,57.65 L361.42,58.36 L362.28,57.29 L363.14,58.36 L363.84,60.15 L364.77,61.82 L365.58,62.10 L380.70,62.10 Z" fill="#959bc8" stroke="none"/>
<path d="M355.50,62.10 L355.85,61.59 L357.29,61.09 L358.35,61.09 L358.85,56.21 L359.28,43.28 L359.63,39.68 L359.99,45.40 L360.72,57.65 L361.42,58.36 L362.28,57.29 L363.14,58.36 L363.84,60.15 L364.77,61.82 L365.58,62.10 L380.70,62.10" fill="none" stroke="#2b2d45" stroke-width="0.45" stroke-linejoin="round"/>
<rect x="355.50" y="36.80" width="25.20" height="25.30" fill="none" stroke="#111" stroke-width="0.75"/>
<line x1="354.50" y1="62.10" x2="355.50" y2="62.10" stroke="#111" stroke-width="0.4"/>
<text x="352.40" y="63.59" font-size="4.15" text-anchor="end" fill="#222" stroke="#222" stroke-width="0.15" textLength="2.30" lengthAdjust="spacingAndGlyphs">0</text>
<line x1="354.50" y1="55.53" x2="355.50" y2="55.53" stroke="#111" stroke-width="0.4"/>
<text x="352.40" y="57.02" font-size="4.15" text-anchor="end" fill="#222" stroke="#222" stroke-width="0.15" textLength="6.90" lengthAdjust="spacingAndGlyphs">100</text>
<line x1="354.50" y1="48.96" x2="355.50" y2="48.96" stroke="#111" stroke-width="0.4"/>
<text x="352.40" y="50.45" font-size="4.15" text-anchor="end" fill="#222" stroke="#222" stroke-width="0.15" textLength="6.90" lengthAdjust="spacingAndGlyphs">200</text>
<line x1="354.50" y1="42.39" x2="355.50" y2="42.39" stroke="#111" stroke-width="0.4"/>
<text x="352.40" y="43.88" font-size="4.15" text-anchor="end" fill="#222" stroke="#222" stroke-width="0.15" textLength="6.90" lengthAdjust="spacingAndGlyphs">300</text>
<line x1="355.50" y1="62.10" x2="355.50" y2="63.10" stroke="#111" stroke-width="0.4"/>
<text transform="translate(356.40,66.50) rotate(-49)" font-size="3.95" text-anchor="end" fill="#222" stroke="#222" stroke-width="0.16">0</text>
<line x1="360.42" y1="62.10" x2="360.42" y2="63.10" stroke="#111" stroke-width="0.4"/>
<text transform="translate(361.32,66.50) rotate(-49)" font-size="3.95" text-anchor="end" fill="#222" stroke="#222" stroke-width="0.16">200</text>
<line x1="365.34" y1="62.10" x2="365.34" y2="63.10" stroke="#111" stroke-width="0.4"/>
<text transform="translate(366.24,66.50) rotate(-49)" font-size="3.95" text-anchor="end" fill="#222" stroke="#222" stroke-width="0.16">400</text>
<line x1="370.27" y1="62.10" x2="370.27" y2="63.10" stroke="#111" stroke-width="0.4"/>
<text transform="translate(371.17,66.50) rotate(-49)" font-size="3.95" text-anchor="end" fill="#222" stroke="#222" stroke-width="0.16">600</text>
<line x1="375.19" y1="62.10" x2="375.19" y2="63.10" stroke="#111" stroke-width="0.4"/>
<text transform="translate(376.09,66.50) rotate(-49)" font-size="3.95" text-anchor="end" fill="#222" stroke="#222" stroke-width="0.16">800</text>
<line x1="380.11" y1="62.10" x2="380.11" y2="63.10" stroke="#111" stroke-width="0.4"/>
<text transform="translate(381.01,66.50) rotate(-49)" font-size="3.95" text-anchor="end" fill="#222" stroke="#222" stroke-width="0.16">1.0K</text>
<path d="M355.50,102.40 L355.50,100.91 L356.52,100.41 L356.98,89.95 L357.29,88.46 L358.06,88.95 L358.44,96.18 L358.78,96.92 L359.34,91.20 L359.80,82.98 L360.36,79.99 L360.75,84.97 L361.18,96.35 L361.90,99.56 L362.98,99.91 L364.02,99.56 L364.74,100.63 L365.82,101.90 L366.76,102.40 L381.10,102.40 Z" fill="#959bc8" stroke="none"/>
<path d="M355.50,102.40 L355.50,100.91 L356.52,100.41 L356.98,89.95 L357.29,88.46 L358.06,88.95 L358.44,96.18 L358.78,96.92 L359.34,91.20 L359.80,82.98 L360.36,79.99 L360.75,84.97 L361.18,96.35 L361.90,99.56 L362.98,99.91 L364.02,99.56 L364.74,100.63 L365.82,101.90 L366.76,102.40 L381.10,102.40" fill="none" stroke="#2b2d45" stroke-width="0.45" stroke-linejoin="round"/>
<rect x="355.50" y="77.50" width="25.60" height="24.90" fill="none" stroke="#111" stroke-width="0.75"/>
<line x1="354.50" y1="102.40" x2="355.50" y2="102.40" stroke="#111" stroke-width="0.4"/>
<text x="352.40" y="103.89" font-size="4.15" text-anchor="end" fill="#222" stroke="#222" stroke-width="0.15" textLength="2.30" lengthAdjust="spacingAndGlyphs">0</text>
<line x1="354.50" y1="96.56" x2="355.50" y2="96.56" stroke="#111" stroke-width="0.4"/>
<text x="352.40" y="98.06" font-size="4.15" text-anchor="end" fill="#222" stroke="#222" stroke-width="0.15" textLength="4.60" lengthAdjust="spacingAndGlyphs">30</text>
<line x1="354.50" y1="90.73" x2="355.50" y2="90.73" stroke="#111" stroke-width="0.4"/>
<text x="352.40" y="92.22" font-size="4.15" text-anchor="end" fill="#222" stroke="#222" stroke-width="0.15" textLength="4.60" lengthAdjust="spacingAndGlyphs">60</text>
<line x1="354.50" y1="84.89" x2="355.50" y2="84.89" stroke="#111" stroke-width="0.4"/>
<text x="352.40" y="86.39" font-size="4.15" text-anchor="end" fill="#222" stroke="#222" stroke-width="0.15" textLength="4.60" lengthAdjust="spacingAndGlyphs">90</text>
<line x1="354.50" y1="79.06" x2="355.50" y2="79.06" stroke="#111" stroke-width="0.4"/>
<text x="352.40" y="80.55" font-size="4.15" text-anchor="end" fill="#222" stroke="#222" stroke-width="0.15" textLength="6.90" lengthAdjust="spacingAndGlyphs">120</text>
<line x1="355.50" y1="102.40" x2="355.50" y2="103.40" stroke="#111" stroke-width="0.4"/>
<text transform="translate(356.40,106.80) rotate(-49)" font-size="3.95" text-anchor="end" fill="#222" stroke="#222" stroke-width="0.16">0</text>
<line x1="360.50" y1="102.40" x2="360.50" y2="103.40" stroke="#111" stroke-width="0.4"/>
<text transform="translate(361.40,106.80) rotate(-49)" font-size="3.95" text-anchor="end" fill="#222" stroke="#222" stroke-width="0.16">200</text>
<line x1="365.50" y1="102.40" x2="365.50" y2="103.40" stroke="#111" stroke-width="0.4"/>
<text transform="translate(366.40,106.80) rotate(-49)" font-size="3.95" text-anchor="end" fill="#222" stroke="#222" stroke-width="0.16">400</text>
<line x1="370.50" y1="102.40" x2="370.50" y2="103.40" stroke="#111" stroke-width="0.4"/>
<text transform="translate(371.40,106.80) rotate(-49)" font-size="3.95" text-anchor="end" fill="#222" stroke="#222" stroke-width="0.16">600</text>
<line x1="375.50" y1="102.40" x2="375.50" y2="103.40" stroke="#111" stroke-width="0.4"/>
<text transform="translate(376.40,106.80) rotate(-49)" font-size="3.95" text-anchor="end" fill="#222" stroke="#222" stroke-width="0.16">800</text>
<line x1="380.50" y1="102.40" x2="380.50" y2="103.40" stroke="#111" stroke-width="0.4"/>
<text transform="translate(381.40,106.80) rotate(-49)" font-size="3.95" text-anchor="end" fill="#222" stroke="#222" stroke-width="0.16">1.0K</text>
<path d="M396.30,62.10 L396.88,61.82 L398.65,61.67 L399.38,59.82 L399.88,45.40 L400.57,39.68 L401.15,45.40 L401.88,56.91 L402.95,57.29 L404.03,56.21 L404.73,56.21 L405.30,59.09 L406.15,61.59 L406.88,61.95 L407.55,62.10 L421.30,62.10 Z" fill="#959bc8" stroke="none"/>
<path d="M396.30,62.10 L396.88,61.82 L398.65,61.67 L399.38,59.82 L399.88,45.40 L400.57,39.68 L401.15,45.40 L401.88,56.91 L402.95,57.29 L404.03,56.21 L404.73,56.21 L405.30,59.09 L406.15,61.59 L406.88,61.95 L407.55,62.10 L421.30,62.10" fill="none" stroke="#2b2d45" stroke-width="0.45" stroke-linejoin="round"/>
<rect x="396.30" y="36.80" width="25.00" height="25.30" fill="none" stroke="#111" stroke-width="0.75"/>
<line x1="395.30" y1="62.10" x2="396.30" y2="62.10" stroke="#111" stroke-width="0.4"/>
<text x="393.20" y="63.59" font-size="4.15" text-anchor="end" fill="#222" stroke="#222" stroke-width="0.15" textLength="2.30" lengthAdjust="spacingAndGlyphs">0</text>
<line x1="395.30" y1="54.57" x2="396.30" y2="54.57" stroke="#111" stroke-width="0.4"/>
<text x="393.20" y="56.06" font-size="4.15" text-anchor="end" fill="#222" stroke="#222" stroke-width="0.15" textLength="6.90" lengthAdjust="spacingAndGlyphs">100</text>
<line x1="395.30" y1="47.04" x2="396.30" y2="47.04" stroke="#111" stroke-width="0.4"/>
<text x="393.20" y="48.53" font-size="4.15" text-anchor="end" fill="#222" stroke="#222" stroke-width="0.15" textLength="6.90" lengthAdjust="spacingAndGlyphs">200</text>
<line x1="395.30" y1="39.51" x2="396.30" y2="39.51" stroke="#111" stroke-width="0.4"/>
<text x="393.20" y="41.00" font-size="4.15" text-anchor="end" fill="#222" stroke="#222" stroke-width="0.15" textLength="6.90" lengthAdjust="spacingAndGlyphs">300</text>
<line x1="396.30" y1="62.10" x2="396.30" y2="63.10" stroke="#111" stroke-width="0.4"/>
<text transform="translate(397.20,66.50) rotate(-49)" font-size="3.95" text-anchor="end" fill="#222" stroke="#222" stroke-width="0.16">0</text>
<line x1="401.18" y1="62.10" x2="401.18" y2="63.10" stroke="#111" stroke-width="0.4"/>
<text transform="translate(402.08,66.50) rotate(-49)" font-size="3.95" text-anchor="end" fill="#222" stroke="#222" stroke-width="0.16">200</text>
<line x1="406.07" y1="62.10" x2="406.07" y2="63.10" stroke="#111" stroke-width="0.4"/>
<text transform="translate(406.97,66.50) rotate(-49)" font-size="3.95" text-anchor="end" fill="#222" stroke="#222" stroke-width="0.16">400</text>
<line x1="410.95" y1="62.10" x2="410.95" y2="63.10" stroke="#111" stroke-width="0.4"/>
<text transform="translate(411.85,66.50) rotate(-49)" font-size="3.95" text-anchor="end" fill="#222" stroke="#222" stroke-width="0.16">600</text>
<line x1="415.83" y1="62.10" x2="415.83" y2="63.10" stroke="#111" stroke-width="0.4"/>
<text transform="translate(416.73,66.50) rotate(-49)" font-size="3.95" text-anchor="end" fill="#222" stroke="#222" stroke-width="0.16">800</text>
<line x1="420.71" y1="62.10" x2="420.71" y2="63.10" stroke="#111" stroke-width="0.4"/>
<text transform="translate(421.61,66.50) rotate(-49)" font-size="3.95" text-anchor="end" fill="#222" stroke="#222" stroke-width="0.16">1.0K</text>
<path d="M396.50,102.40 L396.50,94.93 L396.72,94.93 L397.22,94.18 L397.92,96.35 L398.84,99.91 L400.06,101.68 L401.13,101.33 L402.20,97.77 L403.25,89.23 L404.32,83.55 L404.82,81.06 L405.39,83.55 L406.24,94.21 L407.53,99.19 L408.60,99.56 L410.02,97.07 L411.09,95.65 L412.16,97.07 L413.58,100.26 L415.00,101.90 L416.42,102.40 L421.40,102.40 Z" fill="#959bc8" stroke="none"/>
<path d="M396.50,102.40 L396.50,94.93 L396.72,94.93 L397.22,94.18 L397.92,96.35 L398.84,99.91 L400.06,101.68 L401.13,101.33 L402.20,97.77 L403.25,89.23 L404.32,83.55 L404.82,81.06 L405.39,83.55 L406.24,94.21 L407.53,99.19 L408.60,99.56 L410.02,97.07 L411.09,95.65 L412.16,97.07 L413.58,100.26 L415.00,101.90 L416.42,102.40 L421.40,102.40" fill="none" stroke="#2b2d45" stroke-width="0.45" stroke-linejoin="round"/>
<rect x="396.50" y="77.50" width="24.90" height="24.90" fill="none" stroke="#111" stroke-width="0.75"/>
<line x1="395.50" y1="102.40" x2="396.50" y2="102.40" stroke="#111" stroke-width="0.4"/>
<text x="393.40" y="103.89" font-size="4.15" text-anchor="end" fill="#222" stroke="#222" stroke-width="0.15" textLength="2.30" lengthAdjust="spacingAndGlyphs">0</text>
<line x1="395.50" y1="96.47" x2="396.50" y2="96.47" stroke="#111" stroke-width="0.4"/>
<text x="393.40" y="97.97" font-size="4.15" text-anchor="end" fill="#222" stroke="#222" stroke-width="0.15" textLength="4.60" lengthAdjust="spacingAndGlyphs">30</text>
<line x1="395.50" y1="90.54" x2="396.50" y2="90.54" stroke="#111" stroke-width="0.4"/>
<text x="393.40" y="92.04" font-size="4.15" text-anchor="end" fill="#222" stroke="#222" stroke-width="0.15" textLength="4.60" lengthAdjust="spacingAndGlyphs">60</text>
<line x1="395.50" y1="84.61" x2="396.50" y2="84.61" stroke="#111" stroke-width="0.4"/>
<text x="393.40" y="86.11" font-size="4.15" text-anchor="end" fill="#222" stroke="#222" stroke-width="0.15" textLength="4.60" lengthAdjust="spacingAndGlyphs">90</text>
<line x1="395.50" y1="78.69" x2="396.50" y2="78.69" stroke="#111" stroke-width="0.4"/>
<text x="393.40" y="80.18" font-size="4.15" text-anchor="end" fill="#222" stroke="#222" stroke-width="0.15" textLength="6.90" lengthAdjust="spacingAndGlyphs">120</text>
<line x1="396.50" y1="102.40" x2="396.50" y2="103.40" stroke="#111" stroke-width="0.4"/>
<text transform="translate(397.40,106.80) rotate(-49)" font-size="3.95" text-anchor="end" fill="#222" stroke="#222" stroke-width="0.16">0</text>
<line x1="401.36" y1="102.40" x2="401.36" y2="103.40" stroke="#111" stroke-width="0.4"/>
<text transform="translate(402.26,106.80) rotate(-49)" font-size="3.95" text-anchor="end" fill="#222" stroke="#222" stroke-width="0.16">200</text>
<line x1="406.23" y1="102.40" x2="406.23" y2="103.40" stroke="#111" stroke-width="0.4"/>
<text transform="translate(407.13,106.80) rotate(-49)" font-size="3.95" text-anchor="end" fill="#222" stroke="#222" stroke-width="0.16">400</text>
<line x1="411.09" y1="102.40" x2="411.09" y2="103.40" stroke="#111" stroke-width="0.4"/>
<text transform="translate(411.99,106.80) rotate(-49)" font-size="3.95" text-anchor="end" fill="#222" stroke="#222" stroke-width="0.16">600</text>
<line x1="415.95" y1="102.40" x2="415.95" y2="103.40" stroke="#111" stroke-width="0.4"/>
<text transform="translate(416.85,106.80) rotate(-49)" font-size="3.95" text-anchor="end" fill="#222" stroke="#222" stroke-width="0.16">800</text>
<line x1="420.82" y1="102.40" x2="420.82" y2="103.40" stroke="#111" stroke-width="0.4"/>
<text transform="translate(421.72,106.80) rotate(-49)" font-size="3.95" text-anchor="end" fill="#222" stroke="#222" stroke-width="0.16">1.0K</text>
<path d="M436.60,62.10 L436.60,55.57 L436.95,55.57 L438.02,55.57 L438.75,59.47 L439.46,60.89 L440.17,56.28 L440.88,45.65 L441.38,40.34 L442.09,46.41 L442.80,51.73 L444.09,52.03 L444.80,53.45 L445.86,57.70 L446.92,61.24 L447.99,61.95 L448.74,62.10 L461.90,62.10 Z" fill="#959bc8" stroke="none"/>
<path d="M436.60,62.10 L436.60,55.57 L436.95,55.57 L438.02,55.57 L438.75,59.47 L439.46,60.89 L440.17,56.28 L440.88,45.65 L441.38,40.34 L442.09,46.41 L442.80,51.73 L444.09,52.03 L444.80,53.45 L445.86,57.70 L446.92,61.24 L447.99,61.95 L448.74,62.10 L461.90,62.10" fill="none" stroke="#2b2d45" stroke-width="0.45" stroke-linejoin="round"/>
<rect x="436.60" y="36.80" width="25.30" height="25.30" fill="none" stroke="#111" stroke-width="0.75"/>
<line x1="435.60" y1="62.10" x2="436.60" y2="62.10" stroke="#111" stroke-width="0.4"/>
<text x="433.50" y="63.59" font-size="4.15" text-anchor="end" fill="#222" stroke="#222" stroke-width="0.15" textLength="2.30" lengthAdjust="spacingAndGlyphs">0</text>
<line x1="435.60" y1="56.60" x2="436.60" y2="56.60" stroke="#111" stroke-width="0.4"/>
<text x="433.50" y="58.09" font-size="4.15" text-anchor="end" fill="#222" stroke="#222" stroke-width="0.15" textLength="4.60" lengthAdjust="spacingAndGlyphs">30</text>
<line x1="435.60" y1="51.10" x2="436.60" y2="51.10" stroke="#111" stroke-width="0.4"/>
<text x="433.50" y="52.59" font-size="4.15" text-anchor="end" fill="#222" stroke="#222" stroke-width="0.15" textLength="4.60" lengthAdjust="spacingAndGlyphs">60</text>
<line x1="435.60" y1="45.60" x2="436.60" y2="45.60" stroke="#111" stroke-width="0.4"/>
<text x="433.50" y="47.09" font-size="4.15" text-anchor="end" fill="#222" stroke="#222" stroke-width="0.15" textLength="4.60" lengthAdjust="spacingAndGlyphs">90</text>
<line x1="435.60" y1="40.10" x2="436.60" y2="40.10" stroke="#111" stroke-width="0.4"/>
<text x="433.50" y="41.59" font-size="4.15" text-anchor="end" fill="#222" stroke="#222" stroke-width="0.15" textLength="6.90" lengthAdjust="spacingAndGlyphs">120</text>
<line x1="436.60" y1="62.10" x2="436.60" y2="63.10" stroke="#111" stroke-width="0.4"/>
<text transform="translate(437.50,66.50) rotate(-49)" font-size="3.95" text-anchor="end" fill="#222" stroke="#222" stroke-width="0.16">0</text>
<line x1="441.54" y1="62.10" x2="441.54" y2="63.10" stroke="#111" stroke-width="0.4"/>
<text transform="translate(442.44,66.50) rotate(-49)" font-size="3.95" text-anchor="end" fill="#222" stroke="#222" stroke-width="0.16">200</text>
<line x1="446.48" y1="62.10" x2="446.48" y2="63.10" stroke="#111" stroke-width="0.4"/>
<text transform="translate(447.38,66.50) rotate(-49)" font-size="3.95" text-anchor="end" fill="#222" stroke="#222" stroke-width="0.16">400</text>
<line x1="451.42" y1="62.10" x2="451.42" y2="63.10" stroke="#111" stroke-width="0.4"/>
<text transform="translate(452.32,66.50) rotate(-49)" font-size="3.95" text-anchor="end" fill="#222" stroke="#222" stroke-width="0.16">600</text>
<line x1="456.37" y1="62.10" x2="456.37" y2="63.10" stroke="#111" stroke-width="0.4"/>
<text transform="translate(457.27,66.50) rotate(-49)" font-size="3.95" text-anchor="end" fill="#222" stroke="#222" stroke-width="0.16">800</text>
<line x1="461.31" y1="62.10" x2="461.31" y2="63.10" stroke="#111" stroke-width="0.4"/>
<text transform="translate(462.21,66.50) rotate(-49)" font-size="3.95" text-anchor="end" fill="#222" stroke="#222" stroke-width="0.16">1.0K</text>
<path d="M436.70,102.40 L436.70,78.25 L436.85,78.25 L437.55,81.73 L438.11,87.96 L438.63,93.69 L439.32,97.17 L440.40,99.59 L441.84,101.20 L443.95,102.05 L446.98,102.40 L462.40,102.40 Z" fill="#959bc8" stroke="none"/>
<path d="M436.70,102.40 L436.70,78.25 L436.85,78.25 L437.55,81.73 L438.11,87.96 L438.63,93.69 L439.32,97.17 L440.40,99.59 L441.84,101.20 L443.95,102.05 L446.98,102.40 L462.40,102.40" fill="none" stroke="#2b2d45" stroke-width="0.45" stroke-linejoin="round"/>
<rect x="436.70" y="77.50" width="25.70" height="24.90" fill="none" stroke="#111" stroke-width="0.75"/>
<line x1="435.70" y1="102.40" x2="436.70" y2="102.40" stroke="#111" stroke-width="0.4"/>
<text x="433.60" y="103.89" font-size="4.15" text-anchor="end" fill="#222" stroke="#222" stroke-width="0.15" textLength="2.30" lengthAdjust="spacingAndGlyphs">0</text>
<line x1="435.70" y1="94.24" x2="436.70" y2="94.24" stroke="#111" stroke-width="0.4"/>
<text x="433.60" y="95.73" font-size="4.15" text-anchor="end" fill="#222" stroke="#222" stroke-width="0.15" textLength="6.90" lengthAdjust="spacingAndGlyphs">100</text>
<line x1="435.70" y1="86.07" x2="436.70" y2="86.07" stroke="#111" stroke-width="0.4"/>
<text x="433.60" y="87.57" font-size="4.15" text-anchor="end" fill="#222" stroke="#222" stroke-width="0.15" textLength="6.90" lengthAdjust="spacingAndGlyphs">200</text>
<line x1="435.70" y1="77.91" x2="436.70" y2="77.91" stroke="#111" stroke-width="0.4"/>
<text x="433.60" y="79.40" font-size="4.15" text-anchor="end" fill="#222" stroke="#222" stroke-width="0.15" textLength="6.90" lengthAdjust="spacingAndGlyphs">300</text>
<line x1="436.70" y1="102.40" x2="436.70" y2="103.40" stroke="#111" stroke-width="0.4"/>
<text transform="translate(437.60,106.80) rotate(-49)" font-size="3.95" text-anchor="end" fill="#222" stroke="#222" stroke-width="0.16">0</text>
<line x1="441.72" y1="102.40" x2="441.72" y2="103.40" stroke="#111" stroke-width="0.4"/>
<text transform="translate(442.62,106.80) rotate(-49)" font-size="3.95" text-anchor="end" fill="#222" stroke="#222" stroke-width="0.16">200</text>
<line x1="446.74" y1="102.40" x2="446.74" y2="103.40" stroke="#111" stroke-width="0.4"/>
<text transform="translate(447.64,106.80) rotate(-49)" font-size="3.95" text-anchor="end" fill="#222" stroke="#222" stroke-width="0.16">400</text>
<line x1="451.76" y1="102.40" x2="451.76" y2="103.40" stroke="#111" stroke-width="0.4"/>
<text transform="translate(452.66,106.80) rotate(-49)" font-size="3.95" text-anchor="end" fill="#222" stroke="#222" stroke-width="0.16">600</text>
<line x1="456.78" y1="102.40" x2="456.78" y2="103.40" stroke="#111" stroke-width="0.4"/>
<text transform="translate(457.68,106.80) rotate(-49)" font-size="3.95" text-anchor="end" fill="#222" stroke="#222" stroke-width="0.16">800</text>
<line x1="461.80" y1="102.40" x2="461.80" y2="103.40" stroke="#111" stroke-width="0.4"/>
<text transform="translate(462.70,106.80) rotate(-49)" font-size="3.95" text-anchor="end" fill="#222" stroke="#222" stroke-width="0.16">1.0K</text>
<path d="M477.50,62.10 L477.50,54.05 L477.85,54.05 L478.56,54.76 L479.26,59.09 L479.99,60.51 L480.70,58.36 L481.13,45.40 L481.56,40.39 L481.96,46.92 L482.69,56.91 L483.52,57.50 L484.25,56.91 L484.96,58.05 L485.66,60.15 L486.37,61.59 L487.08,61.95 L487.83,62.10 L502.70,62.10 Z" fill="#959bc8" stroke="none"/>
<path d="M477.50,62.10 L477.50,54.05 L477.85,54.05 L478.56,54.76 L479.26,59.09 L479.99,60.51 L480.70,58.36 L481.13,45.40 L481.56,40.39 L481.96,46.92 L482.69,56.91 L483.52,57.50 L484.25,56.91 L484.96,58.05 L485.66,60.15 L486.37,61.59 L487.08,61.95 L487.83,62.10 L502.70,62.10" fill="none" stroke="#2b2d45" stroke-width="0.45" stroke-linejoin="round"/>
<rect x="477.50" y="36.80" width="25.20" height="25.30" fill="none" stroke="#111" stroke-width="0.75"/>
<line x1="476.50" y1="62.10" x2="477.50" y2="62.10" stroke="#111" stroke-width="0.4"/>
<text x="474.40" y="63.59" font-size="4.15" text-anchor="end" fill="#222" stroke="#222" stroke-width="0.15" textLength="2.30" lengthAdjust="spacingAndGlyphs">0</text>
<line x1="476.50" y1="54.12" x2="477.50" y2="54.12" stroke="#111" stroke-width="0.4"/>
<text x="474.40" y="55.61" font-size="4.15" text-anchor="end" fill="#222" stroke="#222" stroke-width="0.15" textLength="6.90" lengthAdjust="spacingAndGlyphs">100</text>
<line x1="476.50" y1="46.14" x2="477.50" y2="46.14" stroke="#111" stroke-width="0.4"/>
<text x="474.40" y="47.63" font-size="4.15" text-anchor="end" fill="#222" stroke="#222" stroke-width="0.15" textLength="6.90" lengthAdjust="spacingAndGlyphs">200</text>
<line x1="476.50" y1="38.16" x2="477.50" y2="38.16" stroke="#111" stroke-width="0.4"/>
<text x="474.40" y="39.65" font-size="4.15" text-anchor="end" fill="#222" stroke="#222" stroke-width="0.15" textLength="6.90" lengthAdjust="spacingAndGlyphs">300</text>
<line x1="477.50" y1="62.10" x2="477.50" y2="63.10" stroke="#111" stroke-width="0.4"/>
<text transform="translate(478.40,66.50) rotate(-49)" font-size="3.95" text-anchor="end" fill="#222" stroke="#222" stroke-width="0.16">0</text>
<line x1="482.42" y1="62.10" x2="482.42" y2="63.10" stroke="#111" stroke-width="0.4"/>
<text transform="translate(483.32,66.50) rotate(-49)" font-size="3.95" text-anchor="end" fill="#222" stroke="#222" stroke-width="0.16">200</text>
<line x1="487.34" y1="62.10" x2="487.34" y2="63.10" stroke="#111" stroke-width="0.4"/>
<text transform="translate(488.24,66.50) rotate(-49)" font-size="3.95" text-anchor="end" fill="#222" stroke="#222" stroke-width="0.16">400</text>
<line x1="492.27" y1="62.10" x2="492.27" y2="63.10" stroke="#111" stroke-width="0.4"/>
<text transform="translate(493.17,66.50) rotate(-49)" font-size="3.95" text-anchor="end" fill="#222" stroke="#222" stroke-width="0.16">600</text>
<line x1="497.19" y1="62.10" x2="497.19" y2="63.10" stroke="#111" stroke-width="0.4"/>
<text transform="translate(498.09,66.50) rotate(-49)" font-size="3.95" text-anchor="end" fill="#222" stroke="#222" stroke-width="0.16">800</text>
<line x1="502.11" y1="62.10" x2="502.11" y2="63.10" stroke="#111" stroke-width="0.4"/>
<text transform="translate(503.01,66.50) rotate(-49)" font-size="3.95" text-anchor="end" fill="#222" stroke="#222" stroke-width="0.16">1.0K</text>
<path d="M477.50,102.40 L477.50,80.74 L477.86,80.74 L478.92,81.41 L479.42,89.20 L479.70,99.16 L480.35,101.90 L481.38,102.40 L503.40,102.40 Z" fill="#959bc8" stroke="none"/>
<path d="M477.50,102.40 L477.50,80.74 L477.86,80.74 L478.92,81.41 L479.42,89.20 L479.70,99.16 L480.35,101.90 L481.38,102.40 L503.40,102.40" fill="none" stroke="#2b2d45" stroke-width="0.45" stroke-linejoin="round"/>
<rect x="477.50" y="77.50" width="25.90" height="24.90" fill="none" stroke="#111" stroke-width="0.75"/>
<line x1="476.50" y1="102.40" x2="477.50" y2="102.40" stroke="#111" stroke-width="0.4"/>
<text x="474.40" y="103.89" font-size="4.15" text-anchor="end" fill="#222" stroke="#222" stroke-width="0.15" textLength="2.30" lengthAdjust="spacingAndGlyphs">0</text>
<line x1="476.50" y1="97.12" x2="477.50" y2="97.12" stroke="#111" stroke-width="0.4"/>
<text x="474.40" y="98.62" font-size="4.15" text-anchor="end" fill="#222" stroke="#222" stroke-width="0.15" textLength="4.60" lengthAdjust="spacingAndGlyphs">50</text>
<line x1="476.50" y1="91.85" x2="477.50" y2="91.85" stroke="#111" stroke-width="0.4"/>
<text x="474.40" y="93.34" font-size="4.15" text-anchor="end" fill="#222" stroke="#222" stroke-width="0.15" textLength="6.90" lengthAdjust="spacingAndGlyphs">100</text>
<line x1="476.50" y1="86.57" x2="477.50" y2="86.57" stroke="#111" stroke-width="0.4"/>
<text x="474.40" y="88.07" font-size="4.15" text-anchor="end" fill="#222" stroke="#222" stroke-width="0.15" textLength="6.90" lengthAdjust="spacingAndGlyphs">150</text>
<line x1="476.50" y1="81.30" x2="477.50" y2="81.30" stroke="#111" stroke-width="0.4"/>
<text x="474.40" y="82.79" font-size="4.15" text-anchor="end" fill="#222" stroke="#222" stroke-width="0.15" textLength="6.90" lengthAdjust="spacingAndGlyphs">200</text>
<line x1="477.50" y1="102.40" x2="477.50" y2="103.40" stroke="#111" stroke-width="0.4"/>
<text transform="translate(478.40,106.80) rotate(-49)" font-size="3.95" text-anchor="end" fill="#222" stroke="#222" stroke-width="0.16">0</text>
<line x1="482.56" y1="102.40" x2="482.56" y2="103.40" stroke="#111" stroke-width="0.4"/>
<text transform="translate(483.46,106.80) rotate(-49)" font-size="3.95" text-anchor="end" fill="#222" stroke="#222" stroke-width="0.16">200</text>
<line x1="487.62" y1="102.40" x2="487.62" y2="103.40" stroke="#111" stroke-width="0.4"/>
<text transform="translate(488.52,106.80) rotate(-49)" font-size="3.95" text-anchor="end" fill="#222" stroke="#222" stroke-width="0.16">400</text>
<line x1="492.68" y1="102.40" x2="492.68" y2="103.40" stroke="#111" stroke-width="0.4"/>
<text transform="translate(493.58,106.80) rotate(-49)" font-size="3.95" text-anchor="end" fill="#222" stroke="#222" stroke-width="0.16">600</text>
<line x1="497.73" y1="102.40" x2="497.73" y2="103.40" stroke="#111" stroke-width="0.4"/>
<text transform="translate(498.63,106.80) rotate(-49)" font-size="3.95" text-anchor="end" fill="#222" stroke="#222" stroke-width="0.16">800</text>
<line x1="502.79" y1="102.40" x2="502.79" y2="103.40" stroke="#111" stroke-width="0.4"/>
<text transform="translate(503.69,106.80) rotate(-49)" font-size="3.95" text-anchor="end" fill="#222" stroke="#222" stroke-width="0.16">1.0K</text>
<text x="278.00" y="89.10" font-size="3.8" text-anchor="start" fill="#222" font-weight="normal" stroke="#222" stroke-width="0.15" textLength="12.8" lengthAdjust="spacingAndGlyphs">sub-G1</text>
<line x1="279.80" y1="89.90" x2="279.35" y2="90.62" stroke="#111" stroke-width="0.7"/>
<path d="M278.60,91.80 L278.76,90.24 L279.94,90.99 Z" fill="#111"/>
<text x="317.10" y="85.90" font-size="3.8" text-anchor="start" fill="#222" font-weight="normal" stroke="#222" stroke-width="0.15" textLength="13.3" lengthAdjust="spacingAndGlyphs">sub-G1</text>
<line x1="319.30" y1="87.50" x2="318.95" y2="87.87" stroke="#111" stroke-width="0.7"/>
<path d="M318.00,88.90 L318.44,87.40 L319.47,88.35 Z" fill="#111"/>
<text x="362.00" y="86.30" font-size="3.8" text-anchor="start" fill="#222" font-weight="normal" stroke="#222" stroke-width="0.15" textLength="11.6" lengthAdjust="spacingAndGlyphs">sub-G1</text>
<line x1="360.60" y1="86.60" x2="360.01" y2="87.05" stroke="#111" stroke-width="0.7"/>
<path d="M358.90,87.90 L359.59,86.49 L360.44,87.61 Z" fill="#111"/>
<text x="401.80" y="91.90" font-size="3.8" text-anchor="start" fill="#222" font-weight="normal" stroke="#222" stroke-width="0.15" textLength="13.5" lengthAdjust="spacingAndGlyphs">sub-G1</text>
<line x1="400.80" y1="92.30" x2="400.02" y2="93.04" stroke="#111" stroke-width="0.7"/>
<path d="M399.00,94.00 L399.54,92.53 L400.50,93.55 Z" fill="#111"/>
<text x="442.90" y="84.50" font-size="3.8" text-anchor="start" fill="#222" font-weight="normal" stroke="#222" stroke-width="0.15" textLength="13.1" lengthAdjust="spacingAndGlyphs">sub-G1</text>
<line x1="441.60" y1="84.50" x2="440.91" y2="85.46" stroke="#111" stroke-width="0.7"/>
<path d="M440.10,86.60 L440.34,85.05 L441.48,85.87 Z" fill="#111"/>
<text x="483.50" y="85.90" font-size="3.8" text-anchor="start" fill="#222" font-weight="normal" stroke="#222" stroke-width="0.15" textLength="13.2" lengthAdjust="spacingAndGlyphs">sub-G1</text>
<line x1="482.50" y1="86.10" x2="481.99" y2="86.72" stroke="#111" stroke-width="0.7"/>
<path d="M481.10,87.80 L481.45,86.27 L482.53,87.16 Z" fill="#111"/>
<line x1="260.5" y1="39.5" x2="260.5" y2="117.2" stroke="#555" stroke-width="0.85"/>
<line x1="260.1" y1="117.2" x2="501" y2="117.2" stroke="#555" stroke-width="0.85"/>
<path d="M260.5,36.8 L258.9,40.3 L262.1,40.3 Z" fill="#111"/>
<path d="M503.8,117.2 L500.3,115.6 L500.3,118.8 Z" fill="#111"/>
<text transform="translate(256.10,76.80) rotate(-90)" font-size="6.4" text-anchor="middle" fill="#222" stroke="#222" stroke-width="0.15" font-weight="bold" textLength="11.8" lengthAdjust="spacingAndGlyphs">Count</text>
<text x="381.60" y="125.80" font-size="6.5" text-anchor="middle" fill="#222" font-weight="bold" stroke="#222" stroke-width="0.15" textLength="11.5" lengthAdjust="spacingAndGlyphs">7-AAD</text>
<text transform="translate(510.30,50.00) rotate(-90)" font-size="6.0" text-anchor="middle" fill="#222" stroke="#222" stroke-width="0.15" font-weight="normal" textLength="16" lengthAdjust="spacingAndGlyphs">DMSO</text>
<text transform="translate(511.60,90.30) rotate(-90)" font-size="5.8" text-anchor="middle" fill="#222" stroke="#222" stroke-width="0.15" font-weight="normal" textLength="25" lengthAdjust="spacingAndGlyphs">pracinostat</text>
<text x="326.70" y="149.00" font-size="5.8" text-anchor="middle" fill="#c8375e" font-weight="normal" stroke="#c8375e" stroke-width="0.15"  textLength="15.18" lengthAdjust="spacingAndGlyphs">Toledo</text>
<text x="367.20" y="149.00" font-size="5.8" text-anchor="middle" fill="#c8375e" font-weight="normal" stroke="#c8375e" stroke-width="0.15"  textLength="16.22" lengthAdjust="spacingAndGlyphs">Pfeiffer</text>
<text x="407.75" y="149.00" font-size="5.8" text-anchor="middle" fill="#c8375e" font-weight="normal" stroke="#c8375e" stroke-width="0.15"  textLength="29.10" lengthAdjust="spacingAndGlyphs">KARPAS422</text>
<text x="448.55" y="149.00" font-size="5.8" text-anchor="middle" fill="#c8375e" font-weight="normal" stroke="#c8375e" stroke-width="0.15"  textLength="28.05" lengthAdjust="spacingAndGlyphs">WSUDLCL2</text>
<path d="M314.00,176.20 L314.51,176.05 L316.64,175.90 L317.35,171.74 L317.84,161.71 L318.42,154.16 L319.13,159.69 L319.84,166.24 L320.91,167.09 L321.98,167.81 L323.04,171.82 L324.11,175.33 L324.82,176.05 L325.68,176.20 L339.40,176.20 Z" fill="#959bc8" stroke="none"/>
<path d="M314.00,176.20 L314.51,176.05 L316.64,175.90 L317.35,171.74 L317.84,161.71 L318.42,154.16 L319.13,159.69 L319.84,166.24 L320.91,167.09 L321.98,167.81 L323.04,171.82 L324.11,175.33 L324.82,176.05 L325.68,176.20 L339.40,176.20" fill="none" stroke="#2b2d45" stroke-width="0.45" stroke-linejoin="round"/>
<rect x="314.00" y="151.30" width="25.40" height="24.90" fill="none" stroke="#111" stroke-width="0.75"/>
<line x1="313.00" y1="176.20" x2="314.00" y2="176.20" stroke="#111" stroke-width="0.4"/>
<text x="310.90" y="177.69" font-size="4.15" text-anchor="end" fill="#222" stroke="#222" stroke-width="0.15" textLength="2.30" lengthAdjust="spacingAndGlyphs">0</text>
<line x1="313.00" y1="171.72" x2="314.00" y2="171.72" stroke="#111" stroke-width="0.4"/>
<text x="310.90" y="173.22" font-size="4.15" text-anchor="end" fill="#222" stroke="#222" stroke-width="0.15" textLength="4.60" lengthAdjust="spacingAndGlyphs">50</text>
<line x1="313.00" y1="167.24" x2="314.00" y2="167.24" stroke="#111" stroke-width="0.4"/>
<text x="310.90" y="168.74" font-size="4.15" text-anchor="end" fill="#222" stroke="#222" stroke-width="0.15" textLength="6.90" lengthAdjust="spacingAndGlyphs">100</text>
<line x1="313.00" y1="162.76" x2="314.00" y2="162.76" stroke="#111" stroke-width="0.4"/>
<text x="310.90" y="164.26" font-size="4.15" text-anchor="end" fill="#222" stroke="#222" stroke-width="0.15" textLength="6.90" lengthAdjust="spacingAndGlyphs">150</text>
<line x1="313.00" y1="158.29" x2="314.00" y2="158.29" stroke="#111" stroke-width="0.4"/>
<text x="310.90" y="159.78" font-size="4.15" text-anchor="end" fill="#222" stroke="#222" stroke-width="0.15" textLength="6.90" lengthAdjust="spacingAndGlyphs">200</text>
<line x1="313.00" y1="153.81" x2="314.00" y2="153.81" stroke="#111" stroke-width="0.4"/>
<text x="310.90" y="155.30" font-size="4.15" text-anchor="end" fill="#222" stroke="#222" stroke-width="0.15" textLength="6.90" lengthAdjust="spacingAndGlyphs">250</text>
<line x1="314.00" y1="176.20" x2="314.00" y2="177.20" stroke="#111" stroke-width="0.4"/>
<text transform="translate(314.90,180.60) rotate(-49)" font-size="3.95" text-anchor="end" fill="#222" stroke="#222" stroke-width="0.16">0</text>
<line x1="318.96" y1="176.20" x2="318.96" y2="177.20" stroke="#111" stroke-width="0.4"/>
<text transform="translate(319.86,180.60) rotate(-49)" font-size="3.95" text-anchor="end" fill="#222" stroke="#222" stroke-width="0.16">200</text>
<line x1="323.92" y1="176.20" x2="323.92" y2="177.20" stroke="#111" stroke-width="0.4"/>
<text transform="translate(324.82,180.60) rotate(-49)" font-size="3.95" text-anchor="end" fill="#222" stroke="#222" stroke-width="0.16">400</text>
<line x1="328.88" y1="176.20" x2="328.88" y2="177.20" stroke="#111" stroke-width="0.4"/>
<text transform="translate(329.78,180.60) rotate(-49)" font-size="3.95" text-anchor="end" fill="#222" stroke="#222" stroke-width="0.16">600</text>
<line x1="333.84" y1="176.20" x2="333.84" y2="177.20" stroke="#111" stroke-width="0.4"/>
<text transform="translate(334.74,180.60) rotate(-49)" font-size="3.95" text-anchor="end" fill="#222" stroke="#222" stroke-width="0.16">800</text>
<line x1="338.80" y1="176.20" x2="338.80" y2="177.20" stroke="#111" stroke-width="0.4"/>
<text transform="translate(339.70,180.60) rotate(-49)" font-size="3.95" text-anchor="end" fill="#222" stroke="#222" stroke-width="0.16">1.0K</text>
<path d="M314.00,217.10 L314.00,212.88 L314.28,212.88 L314.84,212.18 L315.56,214.64 L316.64,215.34 L317.69,215.14 L318.40,210.10 L319.12,201.66 L319.84,194.66 L320.40,195.36 L320.89,203.07 L321.40,213.59 L321.96,214.87 L324.80,214.99 L326.60,215.14 L327.64,216.40 L328.85,217.10 L339.60,217.10 Z" fill="#959bc8" stroke="none"/>
<path d="M314.00,217.10 L314.00,212.88 L314.28,212.88 L314.84,212.18 L315.56,214.64 L316.64,215.34 L317.69,215.14 L318.40,210.10 L319.12,201.66 L319.84,194.66 L320.40,195.36 L320.89,203.07 L321.40,213.59 L321.96,214.87 L324.80,214.99 L326.60,215.14 L327.64,216.40 L328.85,217.10 L339.60,217.10" fill="none" stroke="#2b2d45" stroke-width="0.45" stroke-linejoin="round"/>
<rect x="314.00" y="192.00" width="25.60" height="25.10" fill="none" stroke="#111" stroke-width="0.75"/>
<line x1="313.00" y1="217.10" x2="314.00" y2="217.10" stroke="#111" stroke-width="0.4"/>
<text x="310.90" y="218.59" font-size="4.15" text-anchor="end" fill="#222" stroke="#222" stroke-width="0.15" textLength="2.30" lengthAdjust="spacingAndGlyphs">0</text>
<line x1="313.00" y1="211.26" x2="314.00" y2="211.26" stroke="#111" stroke-width="0.4"/>
<text x="310.90" y="212.76" font-size="4.15" text-anchor="end" fill="#222" stroke="#222" stroke-width="0.15" textLength="4.60" lengthAdjust="spacingAndGlyphs">50</text>
<line x1="313.00" y1="205.43" x2="314.00" y2="205.43" stroke="#111" stroke-width="0.4"/>
<text x="310.90" y="206.92" font-size="4.15" text-anchor="end" fill="#222" stroke="#222" stroke-width="0.15" textLength="6.90" lengthAdjust="spacingAndGlyphs">100</text>
<line x1="313.00" y1="199.59" x2="314.00" y2="199.59" stroke="#111" stroke-width="0.4"/>
<text x="310.90" y="201.08" font-size="4.15" text-anchor="end" fill="#222" stroke="#222" stroke-width="0.15" textLength="6.90" lengthAdjust="spacingAndGlyphs">150</text>
<line x1="313.00" y1="193.75" x2="314.00" y2="193.75" stroke="#111" stroke-width="0.4"/>
<text x="310.90" y="195.25" font-size="4.15" text-anchor="end" fill="#222" stroke="#222" stroke-width="0.15" textLength="6.90" lengthAdjust="spacingAndGlyphs">200</text>
<line x1="314.00" y1="217.10" x2="314.00" y2="218.10" stroke="#111" stroke-width="0.4"/>
<text transform="translate(314.90,221.50) rotate(-49)" font-size="3.95" text-anchor="end" fill="#222" stroke="#222" stroke-width="0.16">0</text>
<line x1="319.00" y1="217.10" x2="319.00" y2="218.10" stroke="#111" stroke-width="0.4"/>
<text transform="translate(319.90,221.50) rotate(-49)" font-size="3.95" text-anchor="end" fill="#222" stroke="#222" stroke-width="0.16">200</text>
<line x1="324.00" y1="217.10" x2="324.00" y2="218.10" stroke="#111" stroke-width="0.4"/>
<text transform="translate(324.90,221.50) rotate(-49)" font-size="3.95" text-anchor="end" fill="#222" stroke="#222" stroke-width="0.16">400</text>
<line x1="329.00" y1="217.10" x2="329.00" y2="218.10" stroke="#111" stroke-width="0.4"/>
<text transform="translate(329.90,221.50) rotate(-49)" font-size="3.95" text-anchor="end" fill="#222" stroke="#222" stroke-width="0.16">600</text>
<line x1="334.00" y1="217.10" x2="334.00" y2="218.10" stroke="#111" stroke-width="0.4"/>
<text transform="translate(334.90,221.50) rotate(-49)" font-size="3.95" text-anchor="end" fill="#222" stroke="#222" stroke-width="0.16">800</text>
<line x1="339.00" y1="217.10" x2="339.00" y2="218.10" stroke="#111" stroke-width="0.4"/>
<text transform="translate(339.90,221.50) rotate(-49)" font-size="3.95" text-anchor="end" fill="#222" stroke="#222" stroke-width="0.16">1.0K</text>
<path d="M354.50,176.20 L354.50,173.59 L354.86,173.59 L355.57,174.66 L356.28,175.50 L357.70,175.35 L358.41,172.54 L358.97,159.89 L359.48,153.42 L359.99,161.86 L360.70,170.42 L361.61,171.47 L362.68,171.84 L363.54,173.59 L364.81,175.70 L365.93,176.20 L379.90,176.20 Z" fill="#959bc8" stroke="none"/>
<path d="M354.50,176.20 L354.50,173.59 L354.86,173.59 L355.57,174.66 L356.28,175.50 L357.70,175.35 L358.41,172.54 L358.97,159.89 L359.48,153.42 L359.99,161.86 L360.70,170.42 L361.61,171.47 L362.68,171.84 L363.54,173.59 L364.81,175.70 L365.93,176.20 L379.90,176.20" fill="none" stroke="#2b2d45" stroke-width="0.45" stroke-linejoin="round"/>
<rect x="354.50" y="151.30" width="25.40" height="24.90" fill="none" stroke="#111" stroke-width="0.75"/>
<line x1="353.50" y1="176.20" x2="354.50" y2="176.20" stroke="#111" stroke-width="0.4"/>
<text x="351.40" y="177.69" font-size="4.15" text-anchor="end" fill="#222" stroke="#222" stroke-width="0.15" textLength="2.30" lengthAdjust="spacingAndGlyphs">0</text>
<line x1="353.50" y1="171.72" x2="354.50" y2="171.72" stroke="#111" stroke-width="0.4"/>
<text x="351.40" y="173.22" font-size="4.15" text-anchor="end" fill="#222" stroke="#222" stroke-width="0.15" textLength="4.60" lengthAdjust="spacingAndGlyphs">50</text>
<line x1="353.50" y1="167.24" x2="354.50" y2="167.24" stroke="#111" stroke-width="0.4"/>
<text x="351.40" y="168.74" font-size="4.15" text-anchor="end" fill="#222" stroke="#222" stroke-width="0.15" textLength="6.90" lengthAdjust="spacingAndGlyphs">100</text>
<line x1="353.50" y1="162.76" x2="354.50" y2="162.76" stroke="#111" stroke-width="0.4"/>
<text x="351.40" y="164.26" font-size="4.15" text-anchor="end" fill="#222" stroke="#222" stroke-width="0.15" textLength="6.90" lengthAdjust="spacingAndGlyphs">150</text>
<line x1="353.50" y1="158.29" x2="354.50" y2="158.29" stroke="#111" stroke-width="0.4"/>
<text x="351.40" y="159.78" font-size="4.15" text-anchor="end" fill="#222" stroke="#222" stroke-width="0.15" textLength="6.90" lengthAdjust="spacingAndGlyphs">200</text>
<line x1="353.50" y1="153.81" x2="354.50" y2="153.81" stroke="#111" stroke-width="0.4"/>
<text x="351.40" y="155.30" font-size="4.15" text-anchor="end" fill="#222" stroke="#222" stroke-width="0.15" textLength="6.90" lengthAdjust="spacingAndGlyphs">250</text>
<line x1="354.50" y1="176.20" x2="354.50" y2="177.20" stroke="#111" stroke-width="0.4"/>
<text transform="translate(355.40,180.60) rotate(-49)" font-size="3.95" text-anchor="end" fill="#222" stroke="#222" stroke-width="0.16">0</text>
<line x1="359.46" y1="176.20" x2="359.46" y2="177.20" stroke="#111" stroke-width="0.4"/>
<text transform="translate(360.36,180.60) rotate(-49)" font-size="3.95" text-anchor="end" fill="#222" stroke="#222" stroke-width="0.16">200</text>
<line x1="364.42" y1="176.20" x2="364.42" y2="177.20" stroke="#111" stroke-width="0.4"/>
<text transform="translate(365.32,180.60) rotate(-49)" font-size="3.95" text-anchor="end" fill="#222" stroke="#222" stroke-width="0.16">400</text>
<line x1="369.38" y1="176.20" x2="369.38" y2="177.20" stroke="#111" stroke-width="0.4"/>
<text transform="translate(370.28,180.60) rotate(-49)" font-size="3.95" text-anchor="end" fill="#222" stroke="#222" stroke-width="0.16">600</text>
<line x1="374.34" y1="176.20" x2="374.34" y2="177.20" stroke="#111" stroke-width="0.4"/>
<text transform="translate(375.24,180.60) rotate(-49)" font-size="3.95" text-anchor="end" fill="#222" stroke="#222" stroke-width="0.16">800</text>
<line x1="379.30" y1="176.20" x2="379.30" y2="177.20" stroke="#111" stroke-width="0.4"/>
<text transform="translate(380.20,180.60) rotate(-49)" font-size="3.95" text-anchor="end" fill="#222" stroke="#222" stroke-width="0.16">1.0K</text>
<path d="M354.50,217.10 L354.50,213.59 L354.86,213.59 L355.57,214.29 L356.63,215.57 L358.41,215.34 L359.12,210.10 L359.68,199.53 L360.19,194.31 L360.70,199.53 L361.26,212.88 L362.32,214.64 L364.10,214.87 L365.52,215.34 L366.95,216.40 L368.22,217.10 L379.90,217.10 Z" fill="#959bc8" stroke="none"/>
<path d="M354.50,217.10 L354.50,213.59 L354.86,213.59 L355.57,214.29 L356.63,215.57 L358.41,215.34 L359.12,210.10 L359.68,199.53 L360.19,194.31 L360.70,199.53 L361.26,212.88 L362.32,214.64 L364.10,214.87 L365.52,215.34 L366.95,216.40 L368.22,217.10 L379.90,217.10" fill="none" stroke="#2b2d45" stroke-width="0.45" stroke-linejoin="round"/>
<rect x="354.50" y="192.00" width="25.40" height="25.10" fill="none" stroke="#111" stroke-width="0.75"/>
<line x1="353.50" y1="217.10" x2="354.50" y2="217.10" stroke="#111" stroke-width="0.4"/>
<text x="351.40" y="218.59" font-size="4.15" text-anchor="end" fill="#222" stroke="#222" stroke-width="0.15" textLength="2.30" lengthAdjust="spacingAndGlyphs">0</text>
<line x1="353.50" y1="209.08" x2="354.50" y2="209.08" stroke="#111" stroke-width="0.4"/>
<text x="351.40" y="210.57" font-size="4.15" text-anchor="end" fill="#222" stroke="#222" stroke-width="0.15" textLength="6.90" lengthAdjust="spacingAndGlyphs">100</text>
<line x1="353.50" y1="201.06" x2="354.50" y2="201.06" stroke="#111" stroke-width="0.4"/>
<text x="351.40" y="202.56" font-size="4.15" text-anchor="end" fill="#222" stroke="#222" stroke-width="0.15" textLength="6.90" lengthAdjust="spacingAndGlyphs">200</text>
<line x1="353.50" y1="193.04" x2="354.50" y2="193.04" stroke="#111" stroke-width="0.4"/>
<text x="351.40" y="194.54" font-size="4.15" text-anchor="end" fill="#222" stroke="#222" stroke-width="0.15" textLength="6.90" lengthAdjust="spacingAndGlyphs">300</text>
<line x1="354.50" y1="217.10" x2="354.50" y2="218.10" stroke="#111" stroke-width="0.4"/>
<text transform="translate(355.40,221.50) rotate(-49)" font-size="3.95" text-anchor="end" fill="#222" stroke="#222" stroke-width="0.16">0</text>
<line x1="359.46" y1="217.10" x2="359.46" y2="218.10" stroke="#111" stroke-width="0.4"/>
<text transform="translate(360.36,221.50) rotate(-49)" font-size="3.95" text-anchor="end" fill="#222" stroke="#222" stroke-width="0.16">200</text>
<line x1="364.42" y1="217.10" x2="364.42" y2="218.10" stroke="#111" stroke-width="0.4"/>
<text transform="translate(365.32,221.50) rotate(-49)" font-size="3.95" text-anchor="end" fill="#222" stroke="#222" stroke-width="0.16">400</text>
<line x1="369.38" y1="217.10" x2="369.38" y2="218.10" stroke="#111" stroke-width="0.4"/>
<text transform="translate(370.28,221.50) rotate(-49)" font-size="3.95" text-anchor="end" fill="#222" stroke="#222" stroke-width="0.16">600</text>
<line x1="374.34" y1="217.10" x2="374.34" y2="218.10" stroke="#111" stroke-width="0.4"/>
<text transform="translate(375.24,221.50) rotate(-49)" font-size="3.95" text-anchor="end" fill="#222" stroke="#222" stroke-width="0.16">800</text>
<line x1="379.30" y1="217.10" x2="379.30" y2="218.10" stroke="#111" stroke-width="0.4"/>
<text transform="translate(380.20,221.50) rotate(-49)" font-size="3.95" text-anchor="end" fill="#222" stroke="#222" stroke-width="0.16">1.0K</text>
<path d="M395.10,176.20 L395.10,174.63 L395.45,174.63 L396.16,173.93 L396.87,175.48 L398.31,175.48 L398.79,170.37 L399.22,155.56 L399.58,153.79 L400.08,159.84 L400.79,171.07 L401.88,171.44 L402.94,170.00 L403.65,170.37 L404.36,173.56 L405.22,175.70 L406.23,176.20 L420.40,176.20 Z" fill="#959bc8" stroke="none"/>
<path d="M395.10,176.20 L395.10,174.63 L395.45,174.63 L396.16,173.93 L396.87,175.48 L398.31,175.48 L398.79,170.37 L399.22,155.56 L399.58,153.79 L400.08,159.84 L400.79,171.07 L401.88,171.44 L402.94,170.00 L403.65,170.37 L404.36,173.56 L405.22,175.70 L406.23,176.20 L420.40,176.20" fill="none" stroke="#2b2d45" stroke-width="0.45" stroke-linejoin="round"/>
<rect x="395.10" y="151.30" width="25.30" height="24.90" fill="none" stroke="#111" stroke-width="0.75"/>
<line x1="394.10" y1="176.20" x2="395.10" y2="176.20" stroke="#111" stroke-width="0.4"/>
<text x="392.00" y="177.69" font-size="4.15" text-anchor="end" fill="#222" stroke="#222" stroke-width="0.15" textLength="2.30" lengthAdjust="spacingAndGlyphs">0</text>
<line x1="394.10" y1="169.19" x2="395.10" y2="169.19" stroke="#111" stroke-width="0.4"/>
<text x="392.00" y="170.68" font-size="4.15" text-anchor="end" fill="#222" stroke="#222" stroke-width="0.15" textLength="6.90" lengthAdjust="spacingAndGlyphs">100</text>
<line x1="394.10" y1="162.17" x2="395.10" y2="162.17" stroke="#111" stroke-width="0.4"/>
<text x="392.00" y="163.67" font-size="4.15" text-anchor="end" fill="#222" stroke="#222" stroke-width="0.15" textLength="6.90" lengthAdjust="spacingAndGlyphs">200</text>
<line x1="394.10" y1="155.16" x2="395.10" y2="155.16" stroke="#111" stroke-width="0.4"/>
<text x="392.00" y="156.65" font-size="4.15" text-anchor="end" fill="#222" stroke="#222" stroke-width="0.15" textLength="6.90" lengthAdjust="spacingAndGlyphs">300</text>
<line x1="395.10" y1="176.20" x2="395.10" y2="177.20" stroke="#111" stroke-width="0.4"/>
<text transform="translate(396.00,180.60) rotate(-49)" font-size="3.95" text-anchor="end" fill="#222" stroke="#222" stroke-width="0.16">0</text>
<line x1="400.04" y1="176.20" x2="400.04" y2="177.20" stroke="#111" stroke-width="0.4"/>
<text transform="translate(400.94,180.60) rotate(-49)" font-size="3.95" text-anchor="end" fill="#222" stroke="#222" stroke-width="0.16">200</text>
<line x1="404.98" y1="176.20" x2="404.98" y2="177.20" stroke="#111" stroke-width="0.4"/>
<text transform="translate(405.88,180.60) rotate(-49)" font-size="3.95" text-anchor="end" fill="#222" stroke="#222" stroke-width="0.16">400</text>
<line x1="409.92" y1="176.20" x2="409.92" y2="177.20" stroke="#111" stroke-width="0.4"/>
<text transform="translate(410.82,180.60) rotate(-49)" font-size="3.95" text-anchor="end" fill="#222" stroke="#222" stroke-width="0.16">600</text>
<line x1="414.87" y1="176.20" x2="414.87" y2="177.20" stroke="#111" stroke-width="0.4"/>
<text transform="translate(415.77,180.60) rotate(-49)" font-size="3.95" text-anchor="end" fill="#222" stroke="#222" stroke-width="0.16">800</text>
<line x1="419.81" y1="176.20" x2="419.81" y2="177.20" stroke="#111" stroke-width="0.4"/>
<text transform="translate(420.71,180.60) rotate(-49)" font-size="3.95" text-anchor="end" fill="#222" stroke="#222" stroke-width="0.16">1.0K</text>
<path d="M395.00,217.10 L395.00,208.16 L395.28,208.16 L395.85,208.87 L396.41,211.65 L397.13,215.14 L398.34,216.20 L400.11,215.84 L400.83,211.65 L401.40,199.81 L401.73,195.29 L402.25,201.89 L402.81,213.06 L403.66,215.84 L405.79,216.20 L407.93,215.84 L409.34,216.55 L410.93,217.10 L420.70,217.10 Z" fill="#959bc8" stroke="none"/>
<path d="M395.00,217.10 L395.00,208.16 L395.28,208.16 L395.85,208.87 L396.41,211.65 L397.13,215.14 L398.34,216.20 L400.11,215.84 L400.83,211.65 L401.40,199.81 L401.73,195.29 L402.25,201.89 L402.81,213.06 L403.66,215.84 L405.79,216.20 L407.93,215.84 L409.34,216.55 L410.93,217.10 L420.70,217.10" fill="none" stroke="#2b2d45" stroke-width="0.45" stroke-linejoin="round"/>
<rect x="395.00" y="192.00" width="25.70" height="25.10" fill="none" stroke="#111" stroke-width="0.75"/>
<line x1="394.00" y1="217.10" x2="395.00" y2="217.10" stroke="#111" stroke-width="0.4"/>
<text x="391.90" y="218.59" font-size="4.15" text-anchor="end" fill="#222" stroke="#222" stroke-width="0.15" textLength="2.30" lengthAdjust="spacingAndGlyphs">0</text>
<line x1="394.00" y1="212.62" x2="395.00" y2="212.62" stroke="#111" stroke-width="0.4"/>
<text x="391.90" y="214.11" font-size="4.15" text-anchor="end" fill="#222" stroke="#222" stroke-width="0.15" textLength="4.60" lengthAdjust="spacingAndGlyphs">50</text>
<line x1="394.00" y1="208.14" x2="395.00" y2="208.14" stroke="#111" stroke-width="0.4"/>
<text x="391.90" y="209.63" font-size="4.15" text-anchor="end" fill="#222" stroke="#222" stroke-width="0.15" textLength="6.90" lengthAdjust="spacingAndGlyphs">100</text>
<line x1="394.00" y1="203.65" x2="395.00" y2="203.65" stroke="#111" stroke-width="0.4"/>
<text x="391.90" y="205.15" font-size="4.15" text-anchor="end" fill="#222" stroke="#222" stroke-width="0.15" textLength="6.90" lengthAdjust="spacingAndGlyphs">150</text>
<line x1="394.00" y1="199.17" x2="395.00" y2="199.17" stroke="#111" stroke-width="0.4"/>
<text x="391.90" y="200.67" font-size="4.15" text-anchor="end" fill="#222" stroke="#222" stroke-width="0.15" textLength="6.90" lengthAdjust="spacingAndGlyphs">200</text>
<line x1="394.00" y1="194.69" x2="395.00" y2="194.69" stroke="#111" stroke-width="0.4"/>
<text x="391.90" y="196.18" font-size="4.15" text-anchor="end" fill="#222" stroke="#222" stroke-width="0.15" textLength="6.90" lengthAdjust="spacingAndGlyphs">250</text>
<line x1="395.00" y1="217.10" x2="395.00" y2="218.10" stroke="#111" stroke-width="0.4"/>
<text transform="translate(395.90,221.50) rotate(-49)" font-size="3.95" text-anchor="end" fill="#222" stroke="#222" stroke-width="0.16">0</text>
<line x1="400.02" y1="217.10" x2="400.02" y2="218.10" stroke="#111" stroke-width="0.4"/>
<text transform="translate(400.92,221.50) rotate(-49)" font-size="3.95" text-anchor="end" fill="#222" stroke="#222" stroke-width="0.16">200</text>
<line x1="405.04" y1="217.10" x2="405.04" y2="218.10" stroke="#111" stroke-width="0.4"/>
<text transform="translate(405.94,221.50) rotate(-49)" font-size="3.95" text-anchor="end" fill="#222" stroke="#222" stroke-width="0.16">400</text>
<line x1="410.06" y1="217.10" x2="410.06" y2="218.10" stroke="#111" stroke-width="0.4"/>
<text transform="translate(410.96,221.50) rotate(-49)" font-size="3.95" text-anchor="end" fill="#222" stroke="#222" stroke-width="0.16">600</text>
<line x1="415.08" y1="217.10" x2="415.08" y2="218.10" stroke="#111" stroke-width="0.4"/>
<text transform="translate(415.98,221.50) rotate(-49)" font-size="3.95" text-anchor="end" fill="#222" stroke="#222" stroke-width="0.16">800</text>
<line x1="420.10" y1="217.10" x2="420.10" y2="218.10" stroke="#111" stroke-width="0.4"/>
<text transform="translate(421.00,221.50) rotate(-49)" font-size="3.95" text-anchor="end" fill="#222" stroke="#222" stroke-width="0.16">1.0K</text>
<path d="M435.70,176.20 L435.70,170.37 L435.98,170.37 L436.91,171.07 L437.40,174.63 L438.68,175.35 L439.40,170.37 L439.97,157.70 L440.45,154.14 L440.94,160.54 L441.53,166.24 L442.23,165.02 L442.95,166.24 L443.80,170.37 L444.72,174.63 L445.77,176.05 L446.49,176.20 L461.40,176.20 Z" fill="#959bc8" stroke="none"/>
<path d="M435.70,176.20 L435.70,170.37 L435.98,170.37 L436.91,171.07 L437.40,174.63 L438.68,175.35 L439.40,170.37 L439.97,157.70 L440.45,154.14 L440.94,160.54 L441.53,166.24 L442.23,165.02 L442.95,166.24 L443.80,170.37 L444.72,174.63 L445.77,176.05 L446.49,176.20 L461.40,176.20" fill="none" stroke="#2b2d45" stroke-width="0.45" stroke-linejoin="round"/>
<rect x="435.70" y="151.30" width="25.70" height="24.90" fill="none" stroke="#111" stroke-width="0.75"/>
<line x1="434.70" y1="176.20" x2="435.70" y2="176.20" stroke="#111" stroke-width="0.4"/>
<text x="432.60" y="177.69" font-size="4.15" text-anchor="end" fill="#222" stroke="#222" stroke-width="0.15" textLength="2.30" lengthAdjust="spacingAndGlyphs">0</text>
<line x1="434.70" y1="171.34" x2="435.70" y2="171.34" stroke="#111" stroke-width="0.4"/>
<text x="432.60" y="172.83" font-size="4.15" text-anchor="end" fill="#222" stroke="#222" stroke-width="0.15" textLength="4.60" lengthAdjust="spacingAndGlyphs">50</text>
<line x1="434.70" y1="166.47" x2="435.70" y2="166.47" stroke="#111" stroke-width="0.4"/>
<text x="432.60" y="167.97" font-size="4.15" text-anchor="end" fill="#222" stroke="#222" stroke-width="0.15" textLength="6.90" lengthAdjust="spacingAndGlyphs">100</text>
<line x1="434.70" y1="161.61" x2="435.70" y2="161.61" stroke="#111" stroke-width="0.4"/>
<text x="432.60" y="163.10" font-size="4.15" text-anchor="end" fill="#222" stroke="#222" stroke-width="0.15" textLength="6.90" lengthAdjust="spacingAndGlyphs">150</text>
<line x1="434.70" y1="156.75" x2="435.70" y2="156.75" stroke="#111" stroke-width="0.4"/>
<text x="432.60" y="158.24" font-size="4.15" text-anchor="end" fill="#222" stroke="#222" stroke-width="0.15" textLength="6.90" lengthAdjust="spacingAndGlyphs">200</text>
<line x1="434.70" y1="151.88" x2="435.70" y2="151.88" stroke="#111" stroke-width="0.4"/>
<text x="432.60" y="153.38" font-size="4.15" text-anchor="end" fill="#222" stroke="#222" stroke-width="0.15" textLength="6.90" lengthAdjust="spacingAndGlyphs">250</text>
<line x1="435.70" y1="176.20" x2="435.70" y2="177.20" stroke="#111" stroke-width="0.4"/>
<text transform="translate(436.60,180.60) rotate(-49)" font-size="3.95" text-anchor="end" fill="#222" stroke="#222" stroke-width="0.16">0</text>
<line x1="440.72" y1="176.20" x2="440.72" y2="177.20" stroke="#111" stroke-width="0.4"/>
<text transform="translate(441.62,180.60) rotate(-49)" font-size="3.95" text-anchor="end" fill="#222" stroke="#222" stroke-width="0.16">200</text>
<line x1="445.74" y1="176.20" x2="445.74" y2="177.20" stroke="#111" stroke-width="0.4"/>
<text transform="translate(446.64,180.60) rotate(-49)" font-size="3.95" text-anchor="end" fill="#222" stroke="#222" stroke-width="0.16">400</text>
<line x1="450.76" y1="176.20" x2="450.76" y2="177.20" stroke="#111" stroke-width="0.4"/>
<text transform="translate(451.66,180.60) rotate(-49)" font-size="3.95" text-anchor="end" fill="#222" stroke="#222" stroke-width="0.16">600</text>
<line x1="455.78" y1="176.20" x2="455.78" y2="177.20" stroke="#111" stroke-width="0.4"/>
<text transform="translate(456.68,180.60) rotate(-49)" font-size="3.95" text-anchor="end" fill="#222" stroke="#222" stroke-width="0.16">800</text>
<line x1="460.80" y1="176.20" x2="460.80" y2="177.20" stroke="#111" stroke-width="0.4"/>
<text transform="translate(461.70,180.60) rotate(-49)" font-size="3.95" text-anchor="end" fill="#222" stroke="#222" stroke-width="0.16">1.0K</text>
<path d="M435.80,217.10 L435.80,203.40 L436.16,203.40 L436.87,203.75 L437.36,210.60 L437.93,215.67 L439.00,215.67 L439.73,209.17 L440.43,201.96 L441.13,196.19 L441.86,203.40 L442.56,209.17 L443.63,211.33 L445.06,212.05 L446.49,213.49 L447.55,215.67 L448.62,216.75 L449.84,217.10 L461.80,217.10 Z" fill="#959bc8" stroke="none"/>
<path d="M435.80,217.10 L435.80,203.40 L436.16,203.40 L436.87,203.75 L437.36,210.60 L437.93,215.67 L439.00,215.67 L439.73,209.17 L440.43,201.96 L441.13,196.19 L441.86,203.40 L442.56,209.17 L443.63,211.33 L445.06,212.05 L446.49,213.49 L447.55,215.67 L448.62,216.75 L449.84,217.10 L461.80,217.10" fill="none" stroke="#2b2d45" stroke-width="0.45" stroke-linejoin="round"/>
<rect x="435.80" y="192.00" width="26.00" height="25.10" fill="none" stroke="#111" stroke-width="0.75"/>
<line x1="434.80" y1="217.10" x2="435.80" y2="217.10" stroke="#111" stroke-width="0.4"/>
<text x="432.70" y="218.59" font-size="4.15" text-anchor="end" fill="#222" stroke="#222" stroke-width="0.15" textLength="2.30" lengthAdjust="spacingAndGlyphs">0</text>
<line x1="434.80" y1="211.01" x2="435.80" y2="211.01" stroke="#111" stroke-width="0.4"/>
<text x="432.70" y="212.50" font-size="4.15" text-anchor="end" fill="#222" stroke="#222" stroke-width="0.15" textLength="4.60" lengthAdjust="spacingAndGlyphs">50</text>
<line x1="434.80" y1="204.92" x2="435.80" y2="204.92" stroke="#111" stroke-width="0.4"/>
<text x="432.70" y="206.41" font-size="4.15" text-anchor="end" fill="#222" stroke="#222" stroke-width="0.15" textLength="6.90" lengthAdjust="spacingAndGlyphs">100</text>
<line x1="434.80" y1="198.82" x2="435.80" y2="198.82" stroke="#111" stroke-width="0.4"/>
<text x="432.70" y="200.32" font-size="4.15" text-anchor="end" fill="#222" stroke="#222" stroke-width="0.15" textLength="6.90" lengthAdjust="spacingAndGlyphs">150</text>
<line x1="434.80" y1="192.73" x2="435.80" y2="192.73" stroke="#111" stroke-width="0.4"/>
<text x="432.70" y="194.23" font-size="4.15" text-anchor="end" fill="#222" stroke="#222" stroke-width="0.15" textLength="6.90" lengthAdjust="spacingAndGlyphs">200</text>
<line x1="435.80" y1="217.10" x2="435.80" y2="218.10" stroke="#111" stroke-width="0.4"/>
<text transform="translate(436.70,221.50) rotate(-49)" font-size="3.95" text-anchor="end" fill="#222" stroke="#222" stroke-width="0.16">0</text>
<line x1="440.88" y1="217.10" x2="440.88" y2="218.10" stroke="#111" stroke-width="0.4"/>
<text transform="translate(441.78,221.50) rotate(-49)" font-size="3.95" text-anchor="end" fill="#222" stroke="#222" stroke-width="0.16">200</text>
<line x1="445.96" y1="217.10" x2="445.96" y2="218.10" stroke="#111" stroke-width="0.4"/>
<text transform="translate(446.86,221.50) rotate(-49)" font-size="3.95" text-anchor="end" fill="#222" stroke="#222" stroke-width="0.16">400</text>
<line x1="451.03" y1="217.10" x2="451.03" y2="218.10" stroke="#111" stroke-width="0.4"/>
<text transform="translate(451.93,221.50) rotate(-49)" font-size="3.95" text-anchor="end" fill="#222" stroke="#222" stroke-width="0.16">600</text>
<line x1="456.11" y1="217.10" x2="456.11" y2="218.10" stroke="#111" stroke-width="0.4"/>
<text transform="translate(457.01,221.50) rotate(-49)" font-size="3.95" text-anchor="end" fill="#222" stroke="#222" stroke-width="0.16">800</text>
<line x1="461.19" y1="217.10" x2="461.19" y2="218.10" stroke="#111" stroke-width="0.4"/>
<text transform="translate(462.09,221.50) rotate(-49)" font-size="3.95" text-anchor="end" fill="#222" stroke="#222" stroke-width="0.16">1.0K</text>
<text x="323.70" y="196.40" font-size="3.8" text-anchor="start" fill="#222" font-weight="normal" stroke="#222" stroke-width="0.15" textLength="10.0" lengthAdjust="spacingAndGlyphs">G1/S</text>
<line x1="323.00" y1="196.70" x2="322.36" y2="197.38" stroke="#111" stroke-width="0.7"/>
<path d="M321.40,198.40 L321.85,196.90 L322.87,197.86 Z" fill="#111"/>
<text x="363.90" y="197.10" font-size="3.8" text-anchor="start" fill="#222" font-weight="normal" stroke="#222" stroke-width="0.15" textLength="10.1" lengthAdjust="spacingAndGlyphs">G1/S</text>
<line x1="363.00" y1="197.40" x2="362.45" y2="197.88" stroke="#111" stroke-width="0.7"/>
<path d="M361.40,198.80 L361.99,197.35 L362.91,198.40 Z" fill="#111"/>
<text x="406.50" y="197.10" font-size="3.8" text-anchor="start" fill="#222" font-weight="normal" stroke="#222" stroke-width="0.15" textLength="10.3" lengthAdjust="spacingAndGlyphs">G1/S</text>
<line x1="405.60" y1="197.20" x2="404.74" y2="198.16" stroke="#111" stroke-width="0.7"/>
<path d="M403.80,199.20 L404.22,197.69 L405.26,198.63 Z" fill="#111"/>
<text x="400.50" y="209.20" font-size="3.8" text-anchor="start" fill="#222" font-weight="normal" stroke="#222" stroke-width="0.15" textLength="12.8" lengthAdjust="spacingAndGlyphs">sub-G1</text>
<line x1="399.40" y1="209.30" x2="398.41" y2="210.24" stroke="#111" stroke-width="0.7"/>
<path d="M397.40,211.20 L397.93,209.73 L398.90,210.74 Z" fill="#111"/>
<text x="445.80" y="197.90" font-size="3.8" text-anchor="start" fill="#222" font-weight="normal" stroke="#222" stroke-width="0.15" textLength="9.9" lengthAdjust="spacingAndGlyphs">G1/S</text>
<line x1="444.70" y1="198.20" x2="443.84" y2="198.97" stroke="#111" stroke-width="0.7"/>
<path d="M442.80,199.90 L443.38,198.44 L444.31,199.49 Z" fill="#111"/>
<text x="444.20" y="208.50" font-size="3.8" text-anchor="start" fill="#222" font-weight="normal" stroke="#222" stroke-width="0.15" textLength="12.3" lengthAdjust="spacingAndGlyphs">sub-G1</text>
<line x1="441.00" y1="207.30" x2="439.90" y2="207.30" stroke="#111" stroke-width="0.7"/>
<path d="M438.50,207.30 L439.90,206.60 L439.90,208.00 Z" fill="#111"/>
<line x1="300.4" y1="153.5" x2="300.4" y2="231.2" stroke="#555" stroke-width="0.85"/>
<line x1="300.0" y1="231.2" x2="458.5" y2="231.2" stroke="#555" stroke-width="0.85"/>
<path d="M300.4,151.0 L298.8,154.5 L302.0,154.5 Z" fill="#111"/>
<path d="M461.2,231.3 L457.7,229.7 L457.7,232.9 Z" fill="#111"/>
<text transform="translate(296.40,191.20) rotate(-90)" font-size="6.2" text-anchor="middle" fill="#222" stroke="#222" stroke-width="0.15" font-weight="bold" textLength="11" lengthAdjust="spacingAndGlyphs">Count</text>
<text x="381.00" y="239.80" font-size="6.0" text-anchor="middle" fill="#222" font-weight="bold" stroke="#222" stroke-width="0.15" textLength="11.8" lengthAdjust="spacingAndGlyphs">7-AAD</text>
<text transform="translate(469.00,163.80) rotate(-90)" font-size="6.0" text-anchor="middle" fill="#222" stroke="#222" stroke-width="0.15" font-weight="normal" textLength="16" lengthAdjust="spacingAndGlyphs">DMSO</text>
<text transform="translate(470.20,204.20) rotate(-90)" font-size="5.8" text-anchor="middle" fill="#222" stroke="#222" stroke-width="0.15" font-weight="normal" textLength="25" lengthAdjust="spacingAndGlyphs">pracinostat</text>
<text x="6.70" y="164.60" font-size="12" text-anchor="start" fill="#000" font-weight="bold" stroke="#000" stroke-width="0.3" >C</text>
<line x1="35.6" y1="162.8" x2="35.6" y2="261.20000000000005" stroke="#666" stroke-width="1.3"/>
<line x1="35.0" y1="260.90000000000003" x2="144.2" y2="260.90000000000003" stroke="#666" stroke-width="1.6"/>
<line x1="33.800000000000004" y1="260.60" x2="35.6" y2="260.60" stroke="#444" stroke-width="0.6"/>
<text x="29.50" y="262.00" font-size="4.0" text-anchor="end" fill="#222" font-weight="normal" stroke="#222" stroke-width="0.15" >0</text>
<line x1="33.800000000000004" y1="248.78" x2="35.6" y2="248.78" stroke="#444" stroke-width="0.6"/>
<text x="29.50" y="250.18" font-size="4.0" text-anchor="end" fill="#222" font-weight="normal" stroke="#222" stroke-width="0.15" >10</text>
<line x1="33.800000000000004" y1="236.95" x2="35.6" y2="236.95" stroke="#444" stroke-width="0.6"/>
<text x="29.50" y="238.35" font-size="4.0" text-anchor="end" fill="#222" font-weight="normal" stroke="#222" stroke-width="0.15" >20</text>
<line x1="33.800000000000004" y1="225.13" x2="35.6" y2="225.13" stroke="#444" stroke-width="0.6"/>
<text x="29.50" y="226.53" font-size="4.0" text-anchor="end" fill="#222" font-weight="normal" stroke="#222" stroke-width="0.15" >30</text>
<line x1="33.800000000000004" y1="213.30" x2="35.6" y2="213.30" stroke="#444" stroke-width="0.6"/>
<text x="29.50" y="214.70" font-size="4.0" text-anchor="end" fill="#222" font-weight="normal" stroke="#222" stroke-width="0.15" >40</text>
<line x1="33.800000000000004" y1="201.48" x2="35.6" y2="201.48" stroke="#444" stroke-width="0.6"/>
<text x="29.50" y="202.88" font-size="4.0" text-anchor="end" fill="#222" font-weight="normal" stroke="#222" stroke-width="0.15" >50</text>
<line x1="33.800000000000004" y1="189.65" x2="35.6" y2="189.65" stroke="#444" stroke-width="0.6"/>
<text x="29.50" y="191.05" font-size="4.0" text-anchor="end" fill="#222" font-weight="normal" stroke="#222" stroke-width="0.15" >60</text>
<line x1="33.800000000000004" y1="177.83" x2="35.6" y2="177.83" stroke="#444" stroke-width="0.6"/>
<text x="29.50" y="179.23" font-size="4.0" text-anchor="end" fill="#222" font-weight="normal" stroke="#222" stroke-width="0.15" >70</text>
<line x1="33.800000000000004" y1="166.00" x2="35.6" y2="166.00" stroke="#444" stroke-width="0.6"/>
<text x="29.50" y="167.40" font-size="4.0" text-anchor="end" fill="#222" font-weight="normal" stroke="#222" stroke-width="0.15" >80</text>
<line x1="35.6" y1="260.6" x2="35.6" y2="263.0" stroke="#444" stroke-width="0.6"/>
<line x1="62.3" y1="260.6" x2="62.3" y2="263.0" stroke="#444" stroke-width="0.6"/>
<line x1="88.8" y1="260.6" x2="88.8" y2="263.0" stroke="#444" stroke-width="0.6"/>
<line x1="115.8" y1="260.6" x2="115.8" y2="263.0" stroke="#444" stroke-width="0.6"/>
<line x1="143.0" y1="260.6" x2="143.0" y2="263.0" stroke="#444" stroke-width="0.6"/>
<text x="49.40" y="271.00" font-size="3.9" text-anchor="middle" fill="#222" font-weight="normal" stroke="#222" stroke-width="0.15" >day 3</text>
<text x="76.00" y="271.00" font-size="3.9" text-anchor="middle" fill="#222" font-weight="normal" stroke="#222" stroke-width="0.15" >day 7</text>
<text x="102.40" y="271.00" font-size="3.9" text-anchor="middle" fill="#222" font-weight="normal" stroke="#222" stroke-width="0.15" >day 10</text>
<text x="129.00" y="271.00" font-size="3.9" text-anchor="middle" fill="#222" font-weight="normal" stroke="#222" stroke-width="0.15" >day 14</text>
<text transform="translate(12.40,213.40) rotate(-90)" font-size="4.9" text-anchor="middle" fill="#222" stroke="#222" stroke-width="0.15" font-weight="normal" textLength="24" lengthAdjust="spacingAndGlyphs">Live cells (%)</text>
<text transform="translate(20.20,211.90) rotate(-90)" font-size="4.9" text-anchor="middle" fill="#222" stroke="#222" stroke-width="0.15" font-weight="normal" textLength="36" lengthAdjust="spacingAndGlyphs">pracinostat/DMSO</text>
<line x1="49.4" y1="177.8" x2="49.4" y2="190.6" stroke="#a8a8a8" stroke-width="0.75"/>
<line x1="49.4" y1="201.3" x2="49.4" y2="229.0" stroke="#a8a8a8" stroke-width="0.75"/>
<line x1="48.8" y1="177.8" x2="50.0" y2="177.8" stroke="#555" stroke-width="0.6"/>
<line x1="48.8" y1="190.6" x2="50.0" y2="190.6" stroke="#555" stroke-width="0.6"/>
<line x1="48.8" y1="201.3" x2="50.0" y2="201.3" stroke="#555" stroke-width="0.6"/>
<line x1="48.8" y1="205.0" x2="50.0" y2="205.0" stroke="#555" stroke-width="0.6"/>
<line x1="48.8" y1="210.0" x2="50.0" y2="210.0" stroke="#555" stroke-width="0.6"/>
<line x1="48.8" y1="222.0" x2="50.0" y2="222.0" stroke="#555" stroke-width="0.6"/>
<line x1="48.8" y1="229.0" x2="50.0" y2="229.0" stroke="#555" stroke-width="0.6"/>
<line x1="76.0" y1="199.3" x2="76.0" y2="251.2" stroke="#a8a8a8" stroke-width="0.75"/>
<line x1="75.4" y1="199.3" x2="76.6" y2="199.3" stroke="#555" stroke-width="0.6"/>
<line x1="75.4" y1="220.6" x2="76.6" y2="220.6" stroke="#555" stroke-width="0.6"/>
<line x1="75.4" y1="227.7" x2="76.6" y2="227.7" stroke="#555" stroke-width="0.6"/>
<line x1="75.4" y1="232.0" x2="76.6" y2="232.0" stroke="#555" stroke-width="0.6"/>
<line x1="75.4" y1="242.0" x2="76.6" y2="242.0" stroke="#555" stroke-width="0.6"/>
<line x1="75.4" y1="244.0" x2="76.6" y2="244.0" stroke="#555" stroke-width="0.6"/>
<line x1="75.4" y1="249.0" x2="76.6" y2="249.0" stroke="#555" stroke-width="0.6"/>
<line x1="75.4" y1="251.2" x2="76.6" y2="251.2" stroke="#555" stroke-width="0.6"/>
<line x1="102.4" y1="216.4" x2="102.4" y2="253.0" stroke="#a8a8a8" stroke-width="0.75"/>
<line x1="101.80000000000001" y1="216.4" x2="103.0" y2="216.4" stroke="#555" stroke-width="0.6"/>
<line x1="101.80000000000001" y1="221.0" x2="103.0" y2="221.0" stroke="#555" stroke-width="0.6"/>
<line x1="101.80000000000001" y1="225.0" x2="103.0" y2="225.0" stroke="#555" stroke-width="0.6"/>
<line x1="101.80000000000001" y1="234.0" x2="103.0" y2="234.0" stroke="#555" stroke-width="0.6"/>
<line x1="101.80000000000001" y1="238.0" x2="103.0" y2="238.0" stroke="#555" stroke-width="0.6"/>
<line x1="101.80000000000001" y1="241.0" x2="103.0" y2="241.0" stroke="#555" stroke-width="0.6"/>
<line x1="101.80000000000001" y1="245.0" x2="103.0" y2="245.0" stroke="#555" stroke-width="0.6"/>
<line x1="101.80000000000001" y1="248.0" x2="103.0" y2="248.0" stroke="#555" stroke-width="0.6"/>
<line x1="101.80000000000001" y1="253.0" x2="103.0" y2="253.0" stroke="#555" stroke-width="0.6"/>
<line x1="129.0" y1="218.9" x2="129.0" y2="256.0" stroke="#a8a8a8" stroke-width="0.75"/>
<line x1="128.4" y1="218.9" x2="129.6" y2="218.9" stroke="#555" stroke-width="0.6"/>
<line x1="128.4" y1="232.0" x2="129.6" y2="232.0" stroke="#555" stroke-width="0.6"/>
<line x1="128.4" y1="236.0" x2="129.6" y2="236.0" stroke="#555" stroke-width="0.6"/>
<line x1="128.4" y1="241.0" x2="129.6" y2="241.0" stroke="#555" stroke-width="0.6"/>
<line x1="128.4" y1="247.0" x2="129.6" y2="247.0" stroke="#555" stroke-width="0.6"/>
<line x1="128.4" y1="251.0" x2="129.6" y2="251.0" stroke="#555" stroke-width="0.6"/>
<line x1="128.4" y1="256.0" x2="129.6" y2="256.0" stroke="#555" stroke-width="0.6"/>
<polyline points="49.40,207.39 76.00,244.40 102.40,247.36 129.00,251.85" fill="none" stroke="#d6e9c8" stroke-width="0.9"/>
<circle cx="49.4" cy="207.39" r="0.8" fill="#d6e9c8"/>
<circle cx="76.0" cy="244.40" r="0.8" fill="#d6e9c8"/>
<circle cx="102.4" cy="247.36" r="0.8" fill="#d6e9c8"/>
<circle cx="129.0" cy="251.85" r="0.8" fill="#d6e9c8"/>
<polyline points="49.40,214.13 76.00,233.99 102.40,233.52 129.00,243.45" fill="none" stroke="#8cc46c" stroke-width="0.9"/>
<circle cx="49.4" cy="214.13" r="0.8" fill="#8cc46c"/>
<circle cx="76.0" cy="233.99" r="0.8" fill="#8cc46c"/>
<circle cx="102.4" cy="233.52" r="0.8" fill="#8cc46c"/>
<circle cx="129.0" cy="243.45" r="0.8" fill="#8cc46c"/>
<polyline points="49.40,212.12 76.00,246.41 102.40,227.96 129.00,239.32" fill="none" stroke="#e39a86" stroke-width="0.9"/>
<circle cx="49.4" cy="212.12" r="0.8" fill="#e39a86"/>
<circle cx="76.0" cy="246.41" r="0.8" fill="#e39a86"/>
<circle cx="102.4" cy="227.96" r="0.8" fill="#e39a86"/>
<circle cx="129.0" cy="239.32" r="0.8" fill="#e39a86"/>
<polyline points="49.40,223.82 76.00,223.82 102.40,233.99 129.00,249.96" fill="none" stroke="#4f9f32" stroke-width="1.0"/>
<circle cx="49.4" cy="223.82" r="0.8" fill="#4f9f32"/>
<circle cx="76.0" cy="223.82" r="0.8" fill="#4f9f32"/>
<circle cx="102.4" cy="233.99" r="0.8" fill="#4f9f32"/>
<circle cx="129.0" cy="249.96" r="0.8" fill="#4f9f32"/>
<polyline points="49.40,185.98 76.00,210.58 102.40,227.96 129.00,229.03" fill="none" stroke="#c0416b" stroke-width="1.1"/>
<path d="M48.10,185.98 L49.40,184.68 L50.70,185.98 L49.40,187.28 Z" fill="#a8062e"/>
<path d="M74.70,210.58 L76.00,209.28 L77.30,210.58 L76.00,211.88 Z" fill="#a8062e"/>
<path d="M101.10,227.96 L102.40,226.66 L103.70,227.96 L102.40,229.26 Z" fill="#a8062e"/>
<path d="M127.70,229.03 L129.00,227.73 L130.30,229.03 L129.00,230.33 Z" fill="#a8062e"/>
<circle cx="134.5" cy="228.9" r="0.8" fill="#000"/>
<circle cx="134.5" cy="239.4" r="0.8" fill="#000"/>
<circle cx="134.5" cy="243.7" r="0.8" fill="#000"/>
<circle cx="134.5" cy="249.9" r="0.8" fill="#000"/>
<circle cx="134.4" cy="252.9" r="0.8" fill="#000"/>
<circle cx="137.0" cy="252.9" r="0.8" fill="#000"/>
<circle cx="139.6" cy="252.9" r="0.8" fill="#000"/>
<line x1="154.2" y1="199.00" x2="160.4" y2="199.00" stroke="#b31438" stroke-width="0.9"/>
<circle cx="157.3" cy="199.00" r="0.9" fill="#b31438"/>
<text x="163.10" y="200.40" font-size="4.0" text-anchor="start" fill="#222" font-weight="normal" stroke="#222" stroke-width="0.12" >Pfeiffer</text>
<line x1="154.2" y1="205.35" x2="160.4" y2="205.35" stroke="#e39a86" stroke-width="0.9"/>
<circle cx="157.3" cy="205.35" r="0.9" fill="#e39a86"/>
<text x="163.10" y="206.75" font-size="4.0" text-anchor="start" fill="#222" font-weight="normal" stroke="#222" stroke-width="0.12" >Toledo</text>
<line x1="154.2" y1="211.70" x2="160.4" y2="211.70" stroke="#8cc46c" stroke-width="0.9"/>
<circle cx="157.3" cy="211.70" r="0.9" fill="#8cc46c"/>
<text x="163.10" y="213.10" font-size="4.0" text-anchor="start" fill="#222" font-weight="normal" stroke="#222" stroke-width="0.12" >SU-DHL-4</text>
<line x1="154.2" y1="218.05" x2="160.4" y2="218.05" stroke="#d6e9c8" stroke-width="0.9"/>
<circle cx="157.3" cy="218.05" r="0.9" fill="#d6e9c8"/>
<text x="163.10" y="219.45" font-size="4.0" text-anchor="start" fill="#222" font-weight="normal" stroke="#222" stroke-width="0.12" >OCI-LY1</text>
<line x1="154.2" y1="224.40" x2="160.4" y2="224.40" stroke="#4f9f32" stroke-width="0.9"/>
<circle cx="157.3" cy="224.40" r="0.9" fill="#4f9f32"/>
<text x="163.10" y="225.80" font-size="4.0" text-anchor="start" fill="#222" font-weight="normal" stroke="#222" stroke-width="0.12" >U2932</text>
<text x="7.20" y="289.20" font-size="12" text-anchor="start" fill="#000" font-weight="bold" stroke="#000" stroke-width="0.3" textLength="8.0" lengthAdjust="spacingAndGlyphs">D</text>
<text x="48.45" y="299.80" font-size="5.6" text-anchor="middle" fill="#6aaf4a" font-weight="normal" stroke="#6aaf4a" stroke-width="0.15"  textLength="14.46" lengthAdjust="spacingAndGlyphs">HBL-1</text>
<text x="105.05" y="299.80" font-size="5.6" text-anchor="middle" fill="#6aaf4a" font-weight="normal" stroke="#6aaf4a" stroke-width="0.15"  textLength="20.69" lengthAdjust="spacingAndGlyphs">OCI-LY-1</text>
<text x="161.45" y="299.80" font-size="5.6" text-anchor="middle" fill="#6aaf4a" font-weight="normal" stroke="#6aaf4a" stroke-width="0.15"  textLength="23.52" lengthAdjust="spacingAndGlyphs">SU-DHL-4</text>
<text x="217.75" y="299.80" font-size="5.6" text-anchor="middle" fill="#6aaf4a" font-weight="normal" stroke="#6aaf4a" stroke-width="0.15"  textLength="15.03" lengthAdjust="spacingAndGlyphs">U2932</text>
<text x="279.75" y="299.80" font-size="5.6" text-anchor="middle" fill="#c8375e" font-weight="normal" stroke="#c8375e" stroke-width="0.15"  textLength="15.03" lengthAdjust="spacingAndGlyphs">Toledo</text>
<text x="336.15" y="299.80" font-size="5.6" text-anchor="middle" fill="#c8375e" font-weight="normal" stroke="#c8375e" stroke-width="0.15"  textLength="16.06" lengthAdjust="spacingAndGlyphs">Pfeiffer</text>
<text x="136.50" y="290.60" font-size="6.5" text-anchor="middle" fill="#222" font-weight="normal" stroke="#222" stroke-width="0.15" >BCR</text>
<line x1="129.6" y1="291.6" x2="143.5" y2="291.6" stroke="#222" stroke-width="0.5"/>
<text x="312.00" y="290.60" font-size="6.5" text-anchor="middle" fill="#222" font-weight="normal" stroke="#222" stroke-width="0.15" >OxPhos</text>
<line x1="301.2" y1="291.9" x2="322.6" y2="291.9" stroke="#222" stroke-width="0.5"/>
<path d="M30.60,338.10 L31.10,337.29 L32.10,336.80 L33.56,337.05 L35.06,337.61 L36.06,336.80 L36.85,325.11 L38.03,307.56 L39.03,313.18 L40.20,328.97 L41.02,331.43 L42.99,331.08 L43.99,331.78 L45.27,334.24 L46.45,336.80 L47.95,337.82 L50.23,338.10 L66.30,338.10 Z" fill="#959bc8" stroke="none"/>
<path d="M30.60,338.10 L31.10,337.29 L32.10,336.80 L33.56,337.05 L35.06,337.61 L36.06,336.80 L36.85,325.11 L38.03,307.56 L39.03,313.18 L40.20,328.97 L41.02,331.43 L42.99,331.08 L43.99,331.78 L45.27,334.24 L46.45,336.80 L47.95,337.82 L50.23,338.10 L66.30,338.10" fill="none" stroke="#2b2d45" stroke-width="0.45" stroke-linejoin="round"/>
<rect x="30.60" y="303.00" width="35.70" height="35.10" fill="none" stroke="#111" stroke-width="0.75"/>
<line x1="29.60" y1="338.10" x2="30.60" y2="338.10" stroke="#111" stroke-width="0.4"/>
<text x="27.70" y="339.50" font-size="3.9" text-anchor="end" fill="#222" stroke="#222" stroke-width="0.15" textLength="2.30" lengthAdjust="spacingAndGlyphs">0</text>
<line x1="29.60" y1="330.19" x2="30.60" y2="330.19" stroke="#111" stroke-width="0.4"/>
<text x="27.70" y="331.60" font-size="3.9" text-anchor="end" fill="#222" stroke="#222" stroke-width="0.15" textLength="4.60" lengthAdjust="spacingAndGlyphs">50</text>
<line x1="29.60" y1="322.29" x2="30.60" y2="322.29" stroke="#111" stroke-width="0.4"/>
<text x="27.70" y="323.69" font-size="3.9" text-anchor="end" fill="#222" stroke="#222" stroke-width="0.15" textLength="6.90" lengthAdjust="spacingAndGlyphs">100</text>
<line x1="29.60" y1="314.38" x2="30.60" y2="314.38" stroke="#111" stroke-width="0.4"/>
<text x="27.70" y="315.79" font-size="3.9" text-anchor="end" fill="#222" stroke="#222" stroke-width="0.15" textLength="6.90" lengthAdjust="spacingAndGlyphs">150</text>
<line x1="29.60" y1="306.48" x2="30.60" y2="306.48" stroke="#111" stroke-width="0.4"/>
<text x="27.70" y="307.88" font-size="3.9" text-anchor="end" fill="#222" stroke="#222" stroke-width="0.15" textLength="6.90" lengthAdjust="spacingAndGlyphs">200</text>
<line x1="30.60" y1="338.10" x2="30.60" y2="339.10" stroke="#111" stroke-width="0.4"/>
<text transform="translate(31.50,342.20) rotate(-49)" font-size="4.0" text-anchor="end" fill="#222" stroke="#222" stroke-width="0.16">0</text>
<line x1="37.57" y1="338.10" x2="37.57" y2="339.10" stroke="#111" stroke-width="0.4"/>
<text transform="translate(38.47,342.20) rotate(-49)" font-size="4.0" text-anchor="end" fill="#222" stroke="#222" stroke-width="0.16">200</text>
<line x1="44.55" y1="338.10" x2="44.55" y2="339.10" stroke="#111" stroke-width="0.4"/>
<text transform="translate(45.45,342.20) rotate(-49)" font-size="4.0" text-anchor="end" fill="#222" stroke="#222" stroke-width="0.16">400</text>
<line x1="51.52" y1="338.10" x2="51.52" y2="339.10" stroke="#111" stroke-width="0.4"/>
<text transform="translate(52.42,342.20) rotate(-49)" font-size="4.0" text-anchor="end" fill="#222" stroke="#222" stroke-width="0.16">600</text>
<line x1="58.49" y1="338.10" x2="58.49" y2="339.10" stroke="#111" stroke-width="0.4"/>
<text transform="translate(59.39,342.20) rotate(-49)" font-size="4.0" text-anchor="end" fill="#222" stroke="#222" stroke-width="0.16">800</text>
<line x1="65.46" y1="338.10" x2="65.46" y2="339.10" stroke="#111" stroke-width="0.4"/>
<text transform="translate(66.36,342.20) rotate(-49)" font-size="4.0" text-anchor="end" fill="#222" stroke="#222" stroke-width="0.16">1.0K</text>
<path d="M30.60,390.30 L31.10,389.81 L31.89,376.89 L32.88,364.18 L33.56,361.00 L34.28,366.83 L35.28,377.94 L36.56,385.89 L38.03,389.31 L41.02,389.81 L42.99,389.31 L44.99,387.30 L46.77,386.06 L48.45,387.30 L50.45,389.31 L52.91,390.02 L54.88,390.30 L66.30,390.30 Z" fill="#959bc8" stroke="none"/>
<path d="M30.60,390.30 L31.10,389.81 L31.89,376.89 L32.88,364.18 L33.56,361.00 L34.28,366.83 L35.28,377.94 L36.56,385.89 L38.03,389.31 L41.02,389.81 L42.99,389.31 L44.99,387.30 L46.77,386.06 L48.45,387.30 L50.45,389.31 L52.91,390.02 L54.88,390.30 L66.30,390.30" fill="none" stroke="#2b2d45" stroke-width="0.45" stroke-linejoin="round"/>
<rect x="30.60" y="355.00" width="35.70" height="35.30" fill="none" stroke="#111" stroke-width="0.75"/>
<line x1="29.60" y1="390.30" x2="30.60" y2="390.30" stroke="#111" stroke-width="0.4"/>
<text x="27.70" y="391.70" font-size="3.9" text-anchor="end" fill="#222" stroke="#222" stroke-width="0.15" textLength="2.30" lengthAdjust="spacingAndGlyphs">0</text>
<line x1="29.60" y1="380.60" x2="30.60" y2="380.60" stroke="#111" stroke-width="0.4"/>
<text x="27.70" y="382.01" font-size="3.9" text-anchor="end" fill="#222" stroke="#222" stroke-width="0.15" textLength="4.60" lengthAdjust="spacingAndGlyphs">50</text>
<line x1="29.60" y1="370.90" x2="30.60" y2="370.90" stroke="#111" stroke-width="0.4"/>
<text x="27.70" y="372.31" font-size="3.9" text-anchor="end" fill="#222" stroke="#222" stroke-width="0.15" textLength="6.90" lengthAdjust="spacingAndGlyphs">100</text>
<line x1="29.60" y1="361.21" x2="30.60" y2="361.21" stroke="#111" stroke-width="0.4"/>
<text x="27.70" y="362.61" font-size="3.9" text-anchor="end" fill="#222" stroke="#222" stroke-width="0.15" textLength="6.90" lengthAdjust="spacingAndGlyphs">150</text>
<line x1="30.60" y1="390.30" x2="30.60" y2="391.30" stroke="#111" stroke-width="0.4"/>
<text transform="translate(31.50,394.40) rotate(-49)" font-size="4.0" text-anchor="end" fill="#222" stroke="#222" stroke-width="0.16">0</text>
<line x1="37.57" y1="390.30" x2="37.57" y2="391.30" stroke="#111" stroke-width="0.4"/>
<text transform="translate(38.47,394.40) rotate(-49)" font-size="4.0" text-anchor="end" fill="#222" stroke="#222" stroke-width="0.16">200</text>
<line x1="44.55" y1="390.30" x2="44.55" y2="391.30" stroke="#111" stroke-width="0.4"/>
<text transform="translate(45.45,394.40) rotate(-49)" font-size="4.0" text-anchor="end" fill="#222" stroke="#222" stroke-width="0.16">400</text>
<line x1="51.52" y1="390.30" x2="51.52" y2="391.30" stroke="#111" stroke-width="0.4"/>
<text transform="translate(52.42,394.40) rotate(-49)" font-size="4.0" text-anchor="end" fill="#222" stroke="#222" stroke-width="0.16">600</text>
<line x1="58.49" y1="390.30" x2="58.49" y2="391.30" stroke="#111" stroke-width="0.4"/>
<text transform="translate(59.39,394.40) rotate(-49)" font-size="4.0" text-anchor="end" fill="#222" stroke="#222" stroke-width="0.16">800</text>
<line x1="65.46" y1="390.30" x2="65.46" y2="391.30" stroke="#111" stroke-width="0.4"/>
<text transform="translate(66.36,394.40) rotate(-49)" font-size="4.0" text-anchor="end" fill="#222" stroke="#222" stroke-width="0.16">1.0K</text>
<path d="M87.30,338.10 L88.08,337.61 L89.57,337.12 L91.06,337.50 L92.55,337.05 L93.26,330.03 L93.83,315.64 L94.54,306.51 L95.04,313.53 L95.82,328.97 L96.81,335.36 L98.02,335.85 L99.02,334.94 L100.44,334.10 L101.46,334.94 L102.46,336.84 L103.98,337.82 L105.76,338.10 L122.80,338.10 Z" fill="#959bc8" stroke="none"/>
<path d="M87.30,338.10 L88.08,337.61 L89.57,337.12 L91.06,337.50 L92.55,337.05 L93.26,330.03 L93.83,315.64 L94.54,306.51 L95.04,313.53 L95.82,328.97 L96.81,335.36 L98.02,335.85 L99.02,334.94 L100.44,334.10 L101.46,334.94 L102.46,336.84 L103.98,337.82 L105.76,338.10 L122.80,338.10" fill="none" stroke="#2b2d45" stroke-width="0.45" stroke-linejoin="round"/>
<rect x="87.30" y="303.00" width="35.50" height="35.10" fill="none" stroke="#111" stroke-width="0.75"/>
<line x1="86.30" y1="338.10" x2="87.30" y2="338.10" stroke="#111" stroke-width="0.4"/>
<text x="84.40" y="339.50" font-size="3.9" text-anchor="end" fill="#222" stroke="#222" stroke-width="0.15" textLength="2.30" lengthAdjust="spacingAndGlyphs">0</text>
<line x1="86.30" y1="329.68" x2="87.30" y2="329.68" stroke="#111" stroke-width="0.4"/>
<text x="84.40" y="331.09" font-size="3.9" text-anchor="end" fill="#222" stroke="#222" stroke-width="0.15" textLength="6.90" lengthAdjust="spacingAndGlyphs">100</text>
<line x1="86.30" y1="321.27" x2="87.30" y2="321.27" stroke="#111" stroke-width="0.4"/>
<text x="84.40" y="322.67" font-size="3.9" text-anchor="end" fill="#222" stroke="#222" stroke-width="0.15" textLength="6.90" lengthAdjust="spacingAndGlyphs">200</text>
<line x1="86.30" y1="312.85" x2="87.30" y2="312.85" stroke="#111" stroke-width="0.4"/>
<text x="84.40" y="314.25" font-size="3.9" text-anchor="end" fill="#222" stroke="#222" stroke-width="0.15" textLength="6.90" lengthAdjust="spacingAndGlyphs">300</text>
<line x1="86.30" y1="304.43" x2="87.30" y2="304.43" stroke="#111" stroke-width="0.4"/>
<text x="84.40" y="305.83" font-size="3.9" text-anchor="end" fill="#222" stroke="#222" stroke-width="0.15" textLength="6.90" lengthAdjust="spacingAndGlyphs">400</text>
<line x1="87.30" y1="338.10" x2="87.30" y2="339.10" stroke="#111" stroke-width="0.4"/>
<text transform="translate(88.20,342.20) rotate(-49)" font-size="4.0" text-anchor="end" fill="#222" stroke="#222" stroke-width="0.16">0</text>
<line x1="94.23" y1="338.10" x2="94.23" y2="339.10" stroke="#111" stroke-width="0.4"/>
<text transform="translate(95.13,342.20) rotate(-49)" font-size="4.0" text-anchor="end" fill="#222" stroke="#222" stroke-width="0.16">200</text>
<line x1="101.17" y1="338.10" x2="101.17" y2="339.10" stroke="#111" stroke-width="0.4"/>
<text transform="translate(102.07,342.20) rotate(-49)" font-size="4.0" text-anchor="end" fill="#222" stroke="#222" stroke-width="0.16">400</text>
<line x1="108.10" y1="338.10" x2="108.10" y2="339.10" stroke="#111" stroke-width="0.4"/>
<text transform="translate(109.00,342.20) rotate(-49)" font-size="4.0" text-anchor="end" fill="#222" stroke="#222" stroke-width="0.16">600</text>
<line x1="115.03" y1="338.10" x2="115.03" y2="339.10" stroke="#111" stroke-width="0.4"/>
<text transform="translate(115.93,342.20) rotate(-49)" font-size="4.0" text-anchor="end" fill="#222" stroke="#222" stroke-width="0.16">800</text>
<line x1="121.97" y1="338.10" x2="121.97" y2="339.10" stroke="#111" stroke-width="0.4"/>
<text transform="translate(122.87,342.20) rotate(-49)" font-size="4.0" text-anchor="end" fill="#222" stroke="#222" stroke-width="0.16">1.0K</text>
<path d="M87.40,390.30 L87.40,387.83 L87.90,387.83 L88.68,372.30 L89.68,359.41 L90.39,362.41 L91.39,372.30 L92.67,381.97 L94.06,387.37 L95.84,389.31 L98.79,390.02 L101.64,390.30 L123.00,390.30 Z" fill="#959bc8" stroke="none"/>
<path d="M87.40,390.30 L87.40,387.83 L87.90,387.83 L88.68,372.30 L89.68,359.41 L90.39,362.41 L91.39,372.30 L92.67,381.97 L94.06,387.37 L95.84,389.31 L98.79,390.02 L101.64,390.30 L123.00,390.30" fill="none" stroke="#2b2d45" stroke-width="0.45" stroke-linejoin="round"/>
<rect x="87.40" y="355.00" width="35.60" height="35.30" fill="none" stroke="#111" stroke-width="0.75"/>
<line x1="86.40" y1="390.30" x2="87.40" y2="390.30" stroke="#111" stroke-width="0.4"/>
<text x="84.50" y="391.70" font-size="3.9" text-anchor="end" fill="#222" stroke="#222" stroke-width="0.15" textLength="2.30" lengthAdjust="spacingAndGlyphs">0</text>
<line x1="86.40" y1="379.13" x2="87.40" y2="379.13" stroke="#111" stroke-width="0.4"/>
<text x="84.50" y="380.53" font-size="3.9" text-anchor="end" fill="#222" stroke="#222" stroke-width="0.15" textLength="6.90" lengthAdjust="spacingAndGlyphs">100</text>
<line x1="86.40" y1="367.96" x2="87.40" y2="367.96" stroke="#111" stroke-width="0.4"/>
<text x="84.50" y="369.36" font-size="3.9" text-anchor="end" fill="#222" stroke="#222" stroke-width="0.15" textLength="6.90" lengthAdjust="spacingAndGlyphs">200</text>
<line x1="86.40" y1="356.79" x2="87.40" y2="356.79" stroke="#111" stroke-width="0.4"/>
<text x="84.50" y="358.19" font-size="3.9" text-anchor="end" fill="#222" stroke="#222" stroke-width="0.15" textLength="6.90" lengthAdjust="spacingAndGlyphs">300</text>
<line x1="87.40" y1="390.30" x2="87.40" y2="391.30" stroke="#111" stroke-width="0.4"/>
<text transform="translate(88.30,394.40) rotate(-49)" font-size="4.0" text-anchor="end" fill="#222" stroke="#222" stroke-width="0.16">0</text>
<line x1="94.35" y1="390.30" x2="94.35" y2="391.30" stroke="#111" stroke-width="0.4"/>
<text transform="translate(95.25,394.40) rotate(-49)" font-size="4.0" text-anchor="end" fill="#222" stroke="#222" stroke-width="0.16">200</text>
<line x1="101.31" y1="390.30" x2="101.31" y2="391.30" stroke="#111" stroke-width="0.4"/>
<text transform="translate(102.21,394.40) rotate(-49)" font-size="4.0" text-anchor="end" fill="#222" stroke="#222" stroke-width="0.16">400</text>
<line x1="108.26" y1="390.30" x2="108.26" y2="391.30" stroke="#111" stroke-width="0.4"/>
<text transform="translate(109.16,394.40) rotate(-49)" font-size="4.0" text-anchor="end" fill="#222" stroke="#222" stroke-width="0.16">600</text>
<line x1="115.21" y1="390.30" x2="115.21" y2="391.30" stroke="#111" stroke-width="0.4"/>
<text transform="translate(116.11,394.40) rotate(-49)" font-size="4.0" text-anchor="end" fill="#222" stroke="#222" stroke-width="0.16">800</text>
<line x1="122.17" y1="390.30" x2="122.17" y2="391.30" stroke="#111" stroke-width="0.4"/>
<text transform="translate(123.07,394.40) rotate(-49)" font-size="4.0" text-anchor="end" fill="#222" stroke="#222" stroke-width="0.16">1.0K</text>
<path d="M144.00,338.10 L144.49,337.61 L145.99,336.98 L147.49,337.40 L148.99,336.98 L149.79,332.76 L150.49,315.64 L151.26,307.04 L151.99,319.64 L152.76,333.75 L153.98,334.94 L155.97,334.77 L157.47,335.29 L158.97,336.98 L160.44,337.78 L162.15,338.10 L178.90,338.10 Z" fill="#959bc8" stroke="none"/>
<path d="M144.00,338.10 L144.49,337.61 L145.99,336.98 L147.49,337.40 L148.99,336.98 L149.79,332.76 L150.49,315.64 L151.26,307.04 L151.99,319.64 L152.76,333.75 L153.98,334.94 L155.97,334.77 L157.47,335.29 L158.97,336.98 L160.44,337.78 L162.15,338.10 L178.90,338.10" fill="none" stroke="#2b2d45" stroke-width="0.45" stroke-linejoin="round"/>
<rect x="144.00" y="303.00" width="34.90" height="35.10" fill="none" stroke="#111" stroke-width="0.75"/>
<line x1="143.00" y1="338.10" x2="144.00" y2="338.10" stroke="#111" stroke-width="0.4"/>
<text x="141.10" y="339.50" font-size="3.9" text-anchor="end" fill="#222" stroke="#222" stroke-width="0.15" textLength="2.30" lengthAdjust="spacingAndGlyphs">0</text>
<line x1="143.00" y1="330.19" x2="144.00" y2="330.19" stroke="#111" stroke-width="0.4"/>
<text x="141.10" y="331.60" font-size="3.9" text-anchor="end" fill="#222" stroke="#222" stroke-width="0.15" textLength="6.90" lengthAdjust="spacingAndGlyphs">100</text>
<line x1="143.00" y1="322.29" x2="144.00" y2="322.29" stroke="#111" stroke-width="0.4"/>
<text x="141.10" y="323.69" font-size="3.9" text-anchor="end" fill="#222" stroke="#222" stroke-width="0.15" textLength="6.90" lengthAdjust="spacingAndGlyphs">200</text>
<line x1="143.00" y1="314.38" x2="144.00" y2="314.38" stroke="#111" stroke-width="0.4"/>
<text x="141.10" y="315.79" font-size="3.9" text-anchor="end" fill="#222" stroke="#222" stroke-width="0.15" textLength="6.90" lengthAdjust="spacingAndGlyphs">300</text>
<line x1="143.00" y1="306.48" x2="144.00" y2="306.48" stroke="#111" stroke-width="0.4"/>
<text x="141.10" y="307.88" font-size="3.9" text-anchor="end" fill="#222" stroke="#222" stroke-width="0.15" textLength="6.90" lengthAdjust="spacingAndGlyphs">400</text>
<line x1="144.00" y1="338.10" x2="144.00" y2="339.10" stroke="#111" stroke-width="0.4"/>
<text transform="translate(144.90,342.20) rotate(-49)" font-size="4.0" text-anchor="end" fill="#222" stroke="#222" stroke-width="0.16">0</text>
<line x1="150.82" y1="338.10" x2="150.82" y2="339.10" stroke="#111" stroke-width="0.4"/>
<text transform="translate(151.72,342.20) rotate(-49)" font-size="4.0" text-anchor="end" fill="#222" stroke="#222" stroke-width="0.16">200</text>
<line x1="157.63" y1="338.10" x2="157.63" y2="339.10" stroke="#111" stroke-width="0.4"/>
<text transform="translate(158.53,342.20) rotate(-49)" font-size="4.0" text-anchor="end" fill="#222" stroke="#222" stroke-width="0.16">400</text>
<line x1="164.45" y1="338.10" x2="164.45" y2="339.10" stroke="#111" stroke-width="0.4"/>
<text transform="translate(165.35,342.20) rotate(-49)" font-size="4.0" text-anchor="end" fill="#222" stroke="#222" stroke-width="0.16">600</text>
<line x1="171.27" y1="338.10" x2="171.27" y2="339.10" stroke="#111" stroke-width="0.4"/>
<text transform="translate(172.17,342.20) rotate(-49)" font-size="4.0" text-anchor="end" fill="#222" stroke="#222" stroke-width="0.16">800</text>
<line x1="178.08" y1="338.10" x2="178.08" y2="339.10" stroke="#111" stroke-width="0.4"/>
<text transform="translate(178.98,342.20) rotate(-49)" font-size="4.0" text-anchor="end" fill="#222" stroke="#222" stroke-width="0.16">1.0K</text>
<path d="M144.00,390.30 L144.00,386.77 L144.98,381.72 L145.78,363.58 L146.49,358.53 L147.19,363.58 L148.16,375.69 L149.46,384.76 L150.97,388.29 L153.94,389.28 L160.91,389.81 L165.88,390.02 L168.50,390.30 L179.00,390.30 Z" fill="#959bc8" stroke="none"/>
<path d="M144.00,390.30 L144.00,386.77 L144.98,381.72 L145.78,363.58 L146.49,358.53 L147.19,363.58 L148.16,375.69 L149.46,384.76 L150.97,388.29 L153.94,389.28 L160.91,389.81 L165.88,390.02 L168.50,390.30 L179.00,390.30" fill="none" stroke="#2b2d45" stroke-width="0.45" stroke-linejoin="round"/>
<rect x="144.00" y="355.00" width="35.00" height="35.30" fill="none" stroke="#111" stroke-width="0.75"/>
<line x1="143.00" y1="390.30" x2="144.00" y2="390.30" stroke="#111" stroke-width="0.4"/>
<text x="141.10" y="391.70" font-size="3.9" text-anchor="end" fill="#222" stroke="#222" stroke-width="0.15" textLength="2.30" lengthAdjust="spacingAndGlyphs">0</text>
<line x1="143.00" y1="383.79" x2="144.00" y2="383.79" stroke="#111" stroke-width="0.4"/>
<text x="141.10" y="385.19" font-size="3.9" text-anchor="end" fill="#222" stroke="#222" stroke-width="0.15" textLength="4.60" lengthAdjust="spacingAndGlyphs">50</text>
<line x1="143.00" y1="377.27" x2="144.00" y2="377.27" stroke="#111" stroke-width="0.4"/>
<text x="141.10" y="378.68" font-size="3.9" text-anchor="end" fill="#222" stroke="#222" stroke-width="0.15" textLength="6.90" lengthAdjust="spacingAndGlyphs">100</text>
<line x1="143.00" y1="370.76" x2="144.00" y2="370.76" stroke="#111" stroke-width="0.4"/>
<text x="141.10" y="372.17" font-size="3.9" text-anchor="end" fill="#222" stroke="#222" stroke-width="0.15" textLength="6.90" lengthAdjust="spacingAndGlyphs">150</text>
<line x1="143.00" y1="364.25" x2="144.00" y2="364.25" stroke="#111" stroke-width="0.4"/>
<text x="141.10" y="365.65" font-size="3.9" text-anchor="end" fill="#222" stroke="#222" stroke-width="0.15" textLength="6.90" lengthAdjust="spacingAndGlyphs">200</text>
<line x1="143.00" y1="357.74" x2="144.00" y2="357.74" stroke="#111" stroke-width="0.4"/>
<text x="141.10" y="359.14" font-size="3.9" text-anchor="end" fill="#222" stroke="#222" stroke-width="0.15" textLength="6.90" lengthAdjust="spacingAndGlyphs">250</text>
<line x1="144.00" y1="390.30" x2="144.00" y2="391.30" stroke="#111" stroke-width="0.4"/>
<text transform="translate(144.90,394.40) rotate(-49)" font-size="4.0" text-anchor="end" fill="#222" stroke="#222" stroke-width="0.16">0</text>
<line x1="150.84" y1="390.30" x2="150.84" y2="391.30" stroke="#111" stroke-width="0.4"/>
<text transform="translate(151.74,394.40) rotate(-49)" font-size="4.0" text-anchor="end" fill="#222" stroke="#222" stroke-width="0.16">200</text>
<line x1="157.67" y1="390.30" x2="157.67" y2="391.30" stroke="#111" stroke-width="0.4"/>
<text transform="translate(158.57,394.40) rotate(-49)" font-size="4.0" text-anchor="end" fill="#222" stroke="#222" stroke-width="0.16">400</text>
<line x1="164.51" y1="390.30" x2="164.51" y2="391.30" stroke="#111" stroke-width="0.4"/>
<text transform="translate(165.41,394.40) rotate(-49)" font-size="4.0" text-anchor="end" fill="#222" stroke="#222" stroke-width="0.16">600</text>
<line x1="171.34" y1="390.30" x2="171.34" y2="391.30" stroke="#111" stroke-width="0.4"/>
<text transform="translate(172.24,394.40) rotate(-49)" font-size="4.0" text-anchor="end" fill="#222" stroke="#222" stroke-width="0.16">800</text>
<line x1="178.18" y1="390.30" x2="178.18" y2="391.30" stroke="#111" stroke-width="0.4"/>
<text transform="translate(179.08,394.40) rotate(-49)" font-size="4.0" text-anchor="end" fill="#222" stroke="#222" stroke-width="0.16">1.0K</text>
<path d="M200.20,338.10 L201.01,337.61 L202.97,337.29 L204.76,337.29 L205.78,331.78 L206.45,314.93 L207.26,305.32 L207.96,317.04 L208.94,333.89 L209.96,335.99 L211.43,334.80 L212.94,333.29 L213.71,333.29 L214.73,335.29 L215.92,337.29 L217.40,337.99 L218.80,338.10 L235.30,338.10 Z" fill="#959bc8" stroke="none"/>
<path d="M200.20,338.10 L201.01,337.61 L202.97,337.29 L204.76,337.29 L205.78,331.78 L206.45,314.93 L207.26,305.32 L207.96,317.04 L208.94,333.89 L209.96,335.99 L211.43,334.80 L212.94,333.29 L213.71,333.29 L214.73,335.29 L215.92,337.29 L217.40,337.99 L218.80,338.10 L235.30,338.10" fill="none" stroke="#2b2d45" stroke-width="0.45" stroke-linejoin="round"/>
<rect x="200.20" y="303.00" width="35.10" height="35.10" fill="none" stroke="#111" stroke-width="0.75"/>
<line x1="199.20" y1="338.10" x2="200.20" y2="338.10" stroke="#111" stroke-width="0.4"/>
<text x="197.30" y="339.50" font-size="3.9" text-anchor="end" fill="#222" stroke="#222" stroke-width="0.15" textLength="2.30" lengthAdjust="spacingAndGlyphs">0</text>
<line x1="199.20" y1="329.35" x2="200.20" y2="329.35" stroke="#111" stroke-width="0.4"/>
<text x="197.30" y="330.75" font-size="3.9" text-anchor="end" fill="#222" stroke="#222" stroke-width="0.15" textLength="6.90" lengthAdjust="spacingAndGlyphs">100</text>
<line x1="199.20" y1="320.59" x2="200.20" y2="320.59" stroke="#111" stroke-width="0.4"/>
<text x="197.30" y="322.00" font-size="3.9" text-anchor="end" fill="#222" stroke="#222" stroke-width="0.15" textLength="6.90" lengthAdjust="spacingAndGlyphs">200</text>
<line x1="199.20" y1="311.84" x2="200.20" y2="311.84" stroke="#111" stroke-width="0.4"/>
<text x="197.30" y="313.24" font-size="3.9" text-anchor="end" fill="#222" stroke="#222" stroke-width="0.15" textLength="6.90" lengthAdjust="spacingAndGlyphs">300</text>
<line x1="200.20" y1="338.10" x2="200.20" y2="339.10" stroke="#111" stroke-width="0.4"/>
<text transform="translate(201.10,342.20) rotate(-49)" font-size="4.0" text-anchor="end" fill="#222" stroke="#222" stroke-width="0.16">0</text>
<line x1="207.06" y1="338.10" x2="207.06" y2="339.10" stroke="#111" stroke-width="0.4"/>
<text transform="translate(207.96,342.20) rotate(-49)" font-size="4.0" text-anchor="end" fill="#222" stroke="#222" stroke-width="0.16">200</text>
<line x1="213.91" y1="338.10" x2="213.91" y2="339.10" stroke="#111" stroke-width="0.4"/>
<text transform="translate(214.81,342.20) rotate(-49)" font-size="4.0" text-anchor="end" fill="#222" stroke="#222" stroke-width="0.16">400</text>
<line x1="220.77" y1="338.10" x2="220.77" y2="339.10" stroke="#111" stroke-width="0.4"/>
<text transform="translate(221.67,342.20) rotate(-49)" font-size="4.0" text-anchor="end" fill="#222" stroke="#222" stroke-width="0.16">600</text>
<line x1="227.62" y1="338.10" x2="227.62" y2="339.10" stroke="#111" stroke-width="0.4"/>
<text transform="translate(228.52,342.20) rotate(-49)" font-size="4.0" text-anchor="end" fill="#222" stroke="#222" stroke-width="0.16">800</text>
<line x1="234.48" y1="338.10" x2="234.48" y2="339.10" stroke="#111" stroke-width="0.4"/>
<text transform="translate(235.38,342.20) rotate(-49)" font-size="4.0" text-anchor="end" fill="#222" stroke="#222" stroke-width="0.16">1.0K</text>
<path d="M200.10,390.30 L200.10,389.59 L201.37,376.18 L203.50,373.00 L205.66,377.24 L207.78,380.77 L210.97,386.06 L213.66,387.97 L215.25,387.65 L216.31,385.00 L217.38,371.24 L218.22,361.35 L218.97,365.94 L220.03,380.77 L221.41,387.12 L223.78,389.45 L227.00,390.30 L235.50,390.30 Z" fill="#959bc8" stroke="none"/>
<path d="M200.10,390.30 L200.10,389.59 L201.37,376.18 L203.50,373.00 L205.66,377.24 L207.78,380.77 L210.97,386.06 L213.66,387.97 L215.25,387.65 L216.31,385.00 L217.38,371.24 L218.22,361.35 L218.97,365.94 L220.03,380.77 L221.41,387.12 L223.78,389.45 L227.00,390.30 L235.50,390.30" fill="none" stroke="#2b2d45" stroke-width="0.45" stroke-linejoin="round"/>
<rect x="200.10" y="355.00" width="35.40" height="35.30" fill="none" stroke="#111" stroke-width="0.75"/>
<line x1="199.10" y1="390.30" x2="200.10" y2="390.30" stroke="#111" stroke-width="0.4"/>
<text x="197.20" y="391.70" font-size="3.9" text-anchor="end" fill="#222" stroke="#222" stroke-width="0.15" textLength="2.30" lengthAdjust="spacingAndGlyphs">0</text>
<line x1="199.10" y1="381.83" x2="200.10" y2="381.83" stroke="#111" stroke-width="0.4"/>
<text x="197.20" y="383.23" font-size="3.9" text-anchor="end" fill="#222" stroke="#222" stroke-width="0.15" textLength="4.60" lengthAdjust="spacingAndGlyphs">30</text>
<line x1="199.10" y1="373.36" x2="200.10" y2="373.36" stroke="#111" stroke-width="0.4"/>
<text x="197.20" y="374.76" font-size="3.9" text-anchor="end" fill="#222" stroke="#222" stroke-width="0.15" textLength="4.60" lengthAdjust="spacingAndGlyphs">60</text>
<line x1="199.10" y1="364.88" x2="200.10" y2="364.88" stroke="#111" stroke-width="0.4"/>
<text x="197.20" y="366.29" font-size="3.9" text-anchor="end" fill="#222" stroke="#222" stroke-width="0.15" textLength="4.60" lengthAdjust="spacingAndGlyphs">90</text>
<line x1="199.10" y1="356.41" x2="200.10" y2="356.41" stroke="#111" stroke-width="0.4"/>
<text x="197.20" y="357.82" font-size="3.9" text-anchor="end" fill="#222" stroke="#222" stroke-width="0.15" textLength="6.90" lengthAdjust="spacingAndGlyphs">120</text>
<line x1="200.10" y1="390.30" x2="200.10" y2="391.30" stroke="#111" stroke-width="0.4"/>
<text transform="translate(201.00,394.40) rotate(-49)" font-size="4.0" text-anchor="end" fill="#222" stroke="#222" stroke-width="0.16">0</text>
<line x1="207.01" y1="390.30" x2="207.01" y2="391.30" stroke="#111" stroke-width="0.4"/>
<text transform="translate(207.91,394.40) rotate(-49)" font-size="4.0" text-anchor="end" fill="#222" stroke="#222" stroke-width="0.16">200</text>
<line x1="213.93" y1="390.30" x2="213.93" y2="391.30" stroke="#111" stroke-width="0.4"/>
<text transform="translate(214.83,394.40) rotate(-49)" font-size="4.0" text-anchor="end" fill="#222" stroke="#222" stroke-width="0.16">400</text>
<line x1="220.84" y1="390.30" x2="220.84" y2="391.30" stroke="#111" stroke-width="0.4"/>
<text transform="translate(221.74,394.40) rotate(-49)" font-size="4.0" text-anchor="end" fill="#222" stroke="#222" stroke-width="0.16">600</text>
<line x1="227.76" y1="390.30" x2="227.76" y2="391.30" stroke="#111" stroke-width="0.4"/>
<text transform="translate(228.66,394.40) rotate(-49)" font-size="4.0" text-anchor="end" fill="#222" stroke="#222" stroke-width="0.16">800</text>
<line x1="234.67" y1="390.30" x2="234.67" y2="391.30" stroke="#111" stroke-width="0.4"/>
<text transform="translate(235.57,394.40) rotate(-49)" font-size="4.0" text-anchor="end" fill="#222" stroke="#222" stroke-width="0.16">1.0K</text>
<path d="M262.20,338.10 L263.01,337.82 L266.48,337.40 L267.78,333.89 L268.66,319.85 L269.47,307.56 L270.17,315.99 L271.43,327.92 L272.94,327.22 L274.41,326.52 L275.43,327.22 L276.42,331.78 L277.40,335.82 L278.91,337.61 L281.50,338.10 L297.30,338.10 Z" fill="#959bc8" stroke="none"/>
<path d="M262.20,338.10 L263.01,337.82 L266.48,337.40 L267.78,333.89 L268.66,319.85 L269.47,307.56 L270.17,315.99 L271.43,327.92 L272.94,327.22 L274.41,326.52 L275.43,327.22 L276.42,331.78 L277.40,335.82 L278.91,337.61 L281.50,338.10 L297.30,338.10" fill="none" stroke="#2b2d45" stroke-width="0.45" stroke-linejoin="round"/>
<rect x="262.20" y="303.00" width="35.10" height="35.10" fill="none" stroke="#111" stroke-width="0.75"/>
<line x1="261.20" y1="338.10" x2="262.20" y2="338.10" stroke="#111" stroke-width="0.4"/>
<text x="259.30" y="339.50" font-size="3.9" text-anchor="end" fill="#222" stroke="#222" stroke-width="0.15" textLength="2.30" lengthAdjust="spacingAndGlyphs">0</text>
<line x1="261.20" y1="331.79" x2="262.20" y2="331.79" stroke="#111" stroke-width="0.4"/>
<text x="259.30" y="333.19" font-size="3.9" text-anchor="end" fill="#222" stroke="#222" stroke-width="0.15" textLength="4.60" lengthAdjust="spacingAndGlyphs">50</text>
<line x1="261.20" y1="325.47" x2="262.20" y2="325.47" stroke="#111" stroke-width="0.4"/>
<text x="259.30" y="326.88" font-size="3.9" text-anchor="end" fill="#222" stroke="#222" stroke-width="0.15" textLength="6.90" lengthAdjust="spacingAndGlyphs">100</text>
<line x1="261.20" y1="319.16" x2="262.20" y2="319.16" stroke="#111" stroke-width="0.4"/>
<text x="259.30" y="320.57" font-size="3.9" text-anchor="end" fill="#222" stroke="#222" stroke-width="0.15" textLength="6.90" lengthAdjust="spacingAndGlyphs">150</text>
<line x1="261.20" y1="312.85" x2="262.20" y2="312.85" stroke="#111" stroke-width="0.4"/>
<text x="259.30" y="314.25" font-size="3.9" text-anchor="end" fill="#222" stroke="#222" stroke-width="0.15" textLength="6.90" lengthAdjust="spacingAndGlyphs">200</text>
<line x1="261.20" y1="306.54" x2="262.20" y2="306.54" stroke="#111" stroke-width="0.4"/>
<text x="259.30" y="307.94" font-size="3.9" text-anchor="end" fill="#222" stroke="#222" stroke-width="0.15" textLength="6.90" lengthAdjust="spacingAndGlyphs">250</text>
<line x1="262.20" y1="338.10" x2="262.20" y2="339.10" stroke="#111" stroke-width="0.4"/>
<text transform="translate(263.10,342.20) rotate(-49)" font-size="4.0" text-anchor="end" fill="#222" stroke="#222" stroke-width="0.16">0</text>
<line x1="269.06" y1="338.10" x2="269.06" y2="339.10" stroke="#111" stroke-width="0.4"/>
<text transform="translate(269.96,342.20) rotate(-49)" font-size="4.0" text-anchor="end" fill="#222" stroke="#222" stroke-width="0.16">200</text>
<line x1="275.91" y1="338.10" x2="275.91" y2="339.10" stroke="#111" stroke-width="0.4"/>
<text transform="translate(276.81,342.20) rotate(-49)" font-size="4.0" text-anchor="end" fill="#222" stroke="#222" stroke-width="0.16">400</text>
<line x1="282.77" y1="338.10" x2="282.77" y2="339.10" stroke="#111" stroke-width="0.4"/>
<text transform="translate(283.67,342.20) rotate(-49)" font-size="4.0" text-anchor="end" fill="#222" stroke="#222" stroke-width="0.16">600</text>
<line x1="289.62" y1="338.10" x2="289.62" y2="339.10" stroke="#111" stroke-width="0.4"/>
<text transform="translate(290.52,342.20) rotate(-49)" font-size="4.0" text-anchor="end" fill="#222" stroke="#222" stroke-width="0.16">800</text>
<line x1="296.48" y1="338.10" x2="296.48" y2="339.10" stroke="#111" stroke-width="0.4"/>
<text transform="translate(297.38,342.20) rotate(-49)" font-size="4.0" text-anchor="end" fill="#222" stroke="#222" stroke-width="0.16">1.0K</text>
<path d="M262.20,390.30 L262.20,386.77 L262.98,382.00 L263.80,364.99 L264.48,358.53 L265.19,364.00 L266.19,375.02 L267.47,384.02 L268.96,388.22 L270.96,389.81 L280.89,389.81 L283.56,390.30 L297.80,390.30 Z" fill="#959bc8" stroke="none"/>
<path d="M262.20,390.30 L262.20,386.77 L262.98,382.00 L263.80,364.99 L264.48,358.53 L265.19,364.00 L266.19,375.02 L267.47,384.02 L268.96,388.22 L270.96,389.81 L280.89,389.81 L283.56,390.30 L297.80,390.30" fill="none" stroke="#2b2d45" stroke-width="0.45" stroke-linejoin="round"/>
<rect x="262.20" y="355.00" width="35.60" height="35.30" fill="none" stroke="#111" stroke-width="0.75"/>
<line x1="261.20" y1="390.30" x2="262.20" y2="390.30" stroke="#111" stroke-width="0.4"/>
<text x="259.30" y="391.70" font-size="3.9" text-anchor="end" fill="#222" stroke="#222" stroke-width="0.15" textLength="2.30" lengthAdjust="spacingAndGlyphs">0</text>
<line x1="261.20" y1="379.95" x2="262.20" y2="379.95" stroke="#111" stroke-width="0.4"/>
<text x="259.30" y="381.35" font-size="3.9" text-anchor="end" fill="#222" stroke="#222" stroke-width="0.15" textLength="6.90" lengthAdjust="spacingAndGlyphs">100</text>
<line x1="261.20" y1="369.60" x2="262.20" y2="369.60" stroke="#111" stroke-width="0.4"/>
<text x="259.30" y="371.00" font-size="3.9" text-anchor="end" fill="#222" stroke="#222" stroke-width="0.15" textLength="6.90" lengthAdjust="spacingAndGlyphs">200</text>
<line x1="261.20" y1="359.24" x2="262.20" y2="359.24" stroke="#111" stroke-width="0.4"/>
<text x="259.30" y="360.65" font-size="3.9" text-anchor="end" fill="#222" stroke="#222" stroke-width="0.15" textLength="6.90" lengthAdjust="spacingAndGlyphs">300</text>
<line x1="262.20" y1="390.30" x2="262.20" y2="391.30" stroke="#111" stroke-width="0.4"/>
<text transform="translate(263.10,394.40) rotate(-49)" font-size="4.0" text-anchor="end" fill="#222" stroke="#222" stroke-width="0.16">0</text>
<line x1="269.15" y1="390.30" x2="269.15" y2="391.30" stroke="#111" stroke-width="0.4"/>
<text transform="translate(270.05,394.40) rotate(-49)" font-size="4.0" text-anchor="end" fill="#222" stroke="#222" stroke-width="0.16">200</text>
<line x1="276.11" y1="390.30" x2="276.11" y2="391.30" stroke="#111" stroke-width="0.4"/>
<text transform="translate(277.01,394.40) rotate(-49)" font-size="4.0" text-anchor="end" fill="#222" stroke="#222" stroke-width="0.16">400</text>
<line x1="283.06" y1="390.30" x2="283.06" y2="391.30" stroke="#111" stroke-width="0.4"/>
<text transform="translate(283.96,394.40) rotate(-49)" font-size="4.0" text-anchor="end" fill="#222" stroke="#222" stroke-width="0.16">600</text>
<line x1="290.01" y1="390.30" x2="290.01" y2="391.30" stroke="#111" stroke-width="0.4"/>
<text transform="translate(290.91,394.40) rotate(-49)" font-size="4.0" text-anchor="end" fill="#222" stroke="#222" stroke-width="0.16">800</text>
<line x1="296.97" y1="390.30" x2="296.97" y2="391.30" stroke="#111" stroke-width="0.4"/>
<text transform="translate(297.87,394.40) rotate(-49)" font-size="4.0" text-anchor="end" fill="#222" stroke="#222" stroke-width="0.16">1.0K</text>
<path d="M318.90,338.10 L318.90,334.31 L319.38,334.31 L320.90,334.31 L321.90,337.29 L323.38,337.29 L324.42,333.89 L325.21,319.85 L326.11,307.91 L326.90,318.80 L327.90,331.78 L329.91,332.31 L331.91,332.13 L332.91,333.89 L334.39,336.80 L335.91,337.78 L337.88,338.10 L353.40,338.10 Z" fill="#959bc8" stroke="none"/>
<path d="M318.90,338.10 L318.90,334.31 L319.38,334.31 L320.90,334.31 L321.90,337.29 L323.38,337.29 L324.42,333.89 L325.21,319.85 L326.11,307.91 L326.90,318.80 L327.90,331.78 L329.91,332.31 L331.91,332.13 L332.91,333.89 L334.39,336.80 L335.91,337.78 L337.88,338.10 L353.40,338.10" fill="none" stroke="#2b2d45" stroke-width="0.45" stroke-linejoin="round"/>
<rect x="318.90" y="303.00" width="34.50" height="35.10" fill="none" stroke="#111" stroke-width="0.75"/>
<line x1="317.90" y1="338.10" x2="318.90" y2="338.10" stroke="#111" stroke-width="0.4"/>
<text x="316.00" y="339.50" font-size="3.9" text-anchor="end" fill="#222" stroke="#222" stroke-width="0.15" textLength="2.30" lengthAdjust="spacingAndGlyphs">0</text>
<line x1="317.90" y1="326.99" x2="318.90" y2="326.99" stroke="#111" stroke-width="0.4"/>
<text x="316.00" y="328.40" font-size="3.9" text-anchor="end" fill="#222" stroke="#222" stroke-width="0.15" textLength="6.90" lengthAdjust="spacingAndGlyphs">100</text>
<line x1="317.90" y1="315.88" x2="318.90" y2="315.88" stroke="#111" stroke-width="0.4"/>
<text x="316.00" y="317.29" font-size="3.9" text-anchor="end" fill="#222" stroke="#222" stroke-width="0.15" textLength="6.90" lengthAdjust="spacingAndGlyphs">200</text>
<line x1="317.90" y1="304.78" x2="318.90" y2="304.78" stroke="#111" stroke-width="0.4"/>
<text x="316.00" y="306.18" font-size="3.9" text-anchor="end" fill="#222" stroke="#222" stroke-width="0.15" textLength="6.90" lengthAdjust="spacingAndGlyphs">300</text>
<line x1="318.90" y1="338.10" x2="318.90" y2="339.10" stroke="#111" stroke-width="0.4"/>
<text transform="translate(319.80,342.20) rotate(-49)" font-size="4.0" text-anchor="end" fill="#222" stroke="#222" stroke-width="0.16">0</text>
<line x1="325.64" y1="338.10" x2="325.64" y2="339.10" stroke="#111" stroke-width="0.4"/>
<text transform="translate(326.54,342.20) rotate(-49)" font-size="4.0" text-anchor="end" fill="#222" stroke="#222" stroke-width="0.16">200</text>
<line x1="332.38" y1="338.10" x2="332.38" y2="339.10" stroke="#111" stroke-width="0.4"/>
<text transform="translate(333.28,342.20) rotate(-49)" font-size="4.0" text-anchor="end" fill="#222" stroke="#222" stroke-width="0.16">400</text>
<line x1="339.11" y1="338.10" x2="339.11" y2="339.10" stroke="#111" stroke-width="0.4"/>
<text transform="translate(340.01,342.20) rotate(-49)" font-size="4.0" text-anchor="end" fill="#222" stroke="#222" stroke-width="0.16">600</text>
<line x1="345.85" y1="338.10" x2="345.85" y2="339.10" stroke="#111" stroke-width="0.4"/>
<text transform="translate(346.75,342.20) rotate(-49)" font-size="4.0" text-anchor="end" fill="#222" stroke="#222" stroke-width="0.16">800</text>
<line x1="352.59" y1="338.10" x2="352.59" y2="339.10" stroke="#111" stroke-width="0.4"/>
<text transform="translate(353.49,342.20) rotate(-49)" font-size="4.0" text-anchor="end" fill="#222" stroke="#222" stroke-width="0.16">1.0K</text>
<path d="M318.80,390.30 L318.80,358.00 L319.19,358.00 L320.20,358.99 L320.77,358.53 L321.49,367.00 L322.46,382.00 L323.75,387.48 L325.98,388.99 L329.89,389.81 L332.08,389.49 L333.09,386.06 L334.38,381.48 L335.35,382.99 L336.36,387.02 L337.83,389.49 L340.34,390.30 L354.70,390.30 Z" fill="#959bc8" stroke="none"/>
<path d="M318.80,390.30 L318.80,358.00 L319.19,358.00 L320.20,358.99 L320.77,358.53 L321.49,367.00 L322.46,382.00 L323.75,387.48 L325.98,388.99 L329.89,389.81 L332.08,389.49 L333.09,386.06 L334.38,381.48 L335.35,382.99 L336.36,387.02 L337.83,389.49 L340.34,390.30 L354.70,390.30" fill="none" stroke="#2b2d45" stroke-width="0.45" stroke-linejoin="round"/>
<rect x="318.80" y="355.00" width="35.90" height="35.30" fill="none" stroke="#111" stroke-width="0.75"/>
<line x1="317.80" y1="390.30" x2="318.80" y2="390.30" stroke="#111" stroke-width="0.4"/>
<text x="315.90" y="391.70" font-size="3.9" text-anchor="end" fill="#222" stroke="#222" stroke-width="0.15" textLength="2.30" lengthAdjust="spacingAndGlyphs">0</text>
<line x1="317.80" y1="384.17" x2="318.80" y2="384.17" stroke="#111" stroke-width="0.4"/>
<text x="315.90" y="385.58" font-size="3.9" text-anchor="end" fill="#222" stroke="#222" stroke-width="0.15" textLength="4.60" lengthAdjust="spacingAndGlyphs">50</text>
<line x1="317.80" y1="378.04" x2="318.80" y2="378.04" stroke="#111" stroke-width="0.4"/>
<text x="315.90" y="379.45" font-size="3.9" text-anchor="end" fill="#222" stroke="#222" stroke-width="0.15" textLength="6.90" lengthAdjust="spacingAndGlyphs">100</text>
<line x1="317.80" y1="371.91" x2="318.80" y2="371.91" stroke="#111" stroke-width="0.4"/>
<text x="315.90" y="373.32" font-size="3.9" text-anchor="end" fill="#222" stroke="#222" stroke-width="0.15" textLength="6.90" lengthAdjust="spacingAndGlyphs">150</text>
<line x1="317.80" y1="365.79" x2="318.80" y2="365.79" stroke="#111" stroke-width="0.4"/>
<text x="315.90" y="367.19" font-size="3.9" text-anchor="end" fill="#222" stroke="#222" stroke-width="0.15" textLength="6.90" lengthAdjust="spacingAndGlyphs">200</text>
<line x1="317.80" y1="359.66" x2="318.80" y2="359.66" stroke="#111" stroke-width="0.4"/>
<text x="315.90" y="361.06" font-size="3.9" text-anchor="end" fill="#222" stroke="#222" stroke-width="0.15" textLength="6.90" lengthAdjust="spacingAndGlyphs">250</text>
<line x1="318.80" y1="390.30" x2="318.80" y2="391.30" stroke="#111" stroke-width="0.4"/>
<text transform="translate(319.70,394.40) rotate(-49)" font-size="4.0" text-anchor="end" fill="#222" stroke="#222" stroke-width="0.16">0</text>
<line x1="325.81" y1="390.30" x2="325.81" y2="391.30" stroke="#111" stroke-width="0.4"/>
<text transform="translate(326.71,394.40) rotate(-49)" font-size="4.0" text-anchor="end" fill="#222" stroke="#222" stroke-width="0.16">200</text>
<line x1="332.82" y1="390.30" x2="332.82" y2="391.30" stroke="#111" stroke-width="0.4"/>
<text transform="translate(333.72,394.40) rotate(-49)" font-size="4.0" text-anchor="end" fill="#222" stroke="#222" stroke-width="0.16">400</text>
<line x1="339.84" y1="390.30" x2="339.84" y2="391.30" stroke="#111" stroke-width="0.4"/>
<text transform="translate(340.74,394.40) rotate(-49)" font-size="4.0" text-anchor="end" fill="#222" stroke="#222" stroke-width="0.16">600</text>
<line x1="346.85" y1="390.30" x2="346.85" y2="391.30" stroke="#111" stroke-width="0.4"/>
<text transform="translate(347.75,394.40) rotate(-49)" font-size="4.0" text-anchor="end" fill="#222" stroke="#222" stroke-width="0.16">800</text>
<line x1="353.86" y1="390.30" x2="353.86" y2="391.30" stroke="#111" stroke-width="0.4"/>
<text transform="translate(354.76,394.40) rotate(-49)" font-size="4.0" text-anchor="end" fill="#222" stroke="#222" stroke-width="0.16">1.0K</text>
<line x1="38.20" y1="361.60" x2="36.20" y2="361.60" stroke="#111" stroke-width="0.5"/>
<path d="M34.80,361.60 L36.20,360.90 L36.20,362.30 Z" fill="#111"/>
<text x="39.70" y="363.00" font-size="3.9" text-anchor="start" fill="#222" font-weight="normal" stroke="#222" stroke-width="0.15" textLength="13.5" lengthAdjust="spacingAndGlyphs">sub-G1</text>
<line x1="94.00" y1="361.20" x2="93.00" y2="361.20" stroke="#111" stroke-width="0.5"/>
<path d="M91.60,361.20 L93.00,360.50 L93.00,361.90 Z" fill="#111"/>
<text x="96.70" y="362.60" font-size="3.9" text-anchor="start" fill="#222" font-weight="normal" stroke="#222" stroke-width="0.15" textLength="13.5" lengthAdjust="spacingAndGlyphs">sub-G1</text>
<line x1="152.80" y1="361.50" x2="151.10" y2="361.50" stroke="#111" stroke-width="0.5"/>
<path d="M149.70,361.50 L151.10,360.80 L151.10,362.20 Z" fill="#111"/>
<text x="153.90" y="362.90" font-size="3.9" text-anchor="start" fill="#222" font-weight="normal" stroke="#222" stroke-width="0.15" textLength="13.5" lengthAdjust="spacingAndGlyphs">sub-G1</text>
<line x1="270.80" y1="361.50" x2="268.80" y2="361.50" stroke="#111" stroke-width="0.5"/>
<path d="M267.40,361.50 L268.80,360.80 L268.80,362.20 Z" fill="#111"/>
<text x="271.90" y="362.90" font-size="3.9" text-anchor="start" fill="#222" font-weight="normal" stroke="#222" stroke-width="0.15" textLength="13.5" lengthAdjust="spacingAndGlyphs">sub-G1</text>
<line x1="325.60" y1="361.50" x2="324.30" y2="361.50" stroke="#111" stroke-width="0.5"/>
<path d="M322.90,361.50 L324.30,360.80 L324.30,362.20 Z" fill="#111"/>
<text x="327.90" y="362.90" font-size="3.9" text-anchor="start" fill="#222" font-weight="normal" stroke="#222" stroke-width="0.15" textLength="13.5" lengthAdjust="spacingAndGlyphs">sub-G1</text>
<text x="203.00" y="366.90" font-size="3.9" text-anchor="start" fill="#222" font-weight="normal" stroke="#222" stroke-width="0.15" textLength="12.8" lengthAdjust="spacingAndGlyphs">sub-G1</text>
<line x1="206.60" y1="368.10" x2="205.71" y2="370.20" stroke="#111" stroke-width="0.55"/>
<path d="M205.20,371.40 L205.11,369.95 L206.31,370.46 Z" fill="#111"/>
<line x1="17.6" y1="306" x2="17.6" y2="405.2" stroke="#555" stroke-width="0.85"/>
<line x1="17.2" y1="405.2" x2="352" y2="405.2" stroke="#555" stroke-width="0.85"/>
<path d="M17.6,303.3 L16.0,306.9 L19.2,306.9 Z" fill="#111"/>
<path d="M355.0,405.2 L351.5,403.6 L351.5,406.8 Z" fill="#111"/>
<text transform="translate(13.50,354.00) rotate(-90)" font-size="6.2" text-anchor="middle" fill="#222" stroke="#222" stroke-width="0.15" font-weight="bold" textLength="11" lengthAdjust="spacingAndGlyphs">Count</text>
<text x="189.30" y="413.70" font-size="6.6" text-anchor="middle" fill="#222" font-weight="bold" stroke="#222" stroke-width="0.15" textLength="12" lengthAdjust="spacingAndGlyphs">7-AAD</text>
<text transform="translate(362.00,320.60) rotate(-90)" font-size="6.0" text-anchor="middle" fill="#222" stroke="#222" stroke-width="0.15" font-weight="normal" textLength="16" lengthAdjust="spacingAndGlyphs">DMSO</text>
<text transform="translate(362.60,371.00) rotate(-90)" font-size="5.8" text-anchor="middle" fill="#222" stroke="#222" stroke-width="0.15" font-weight="normal" textLength="29" lengthAdjust="spacingAndGlyphs">pracinostat</text>
<rect x="0.5" y="0.5" width="519" height="421" fill="none" stroke="#0a0a0a" stroke-width="1.3"/>
</svg>
</body></html>
